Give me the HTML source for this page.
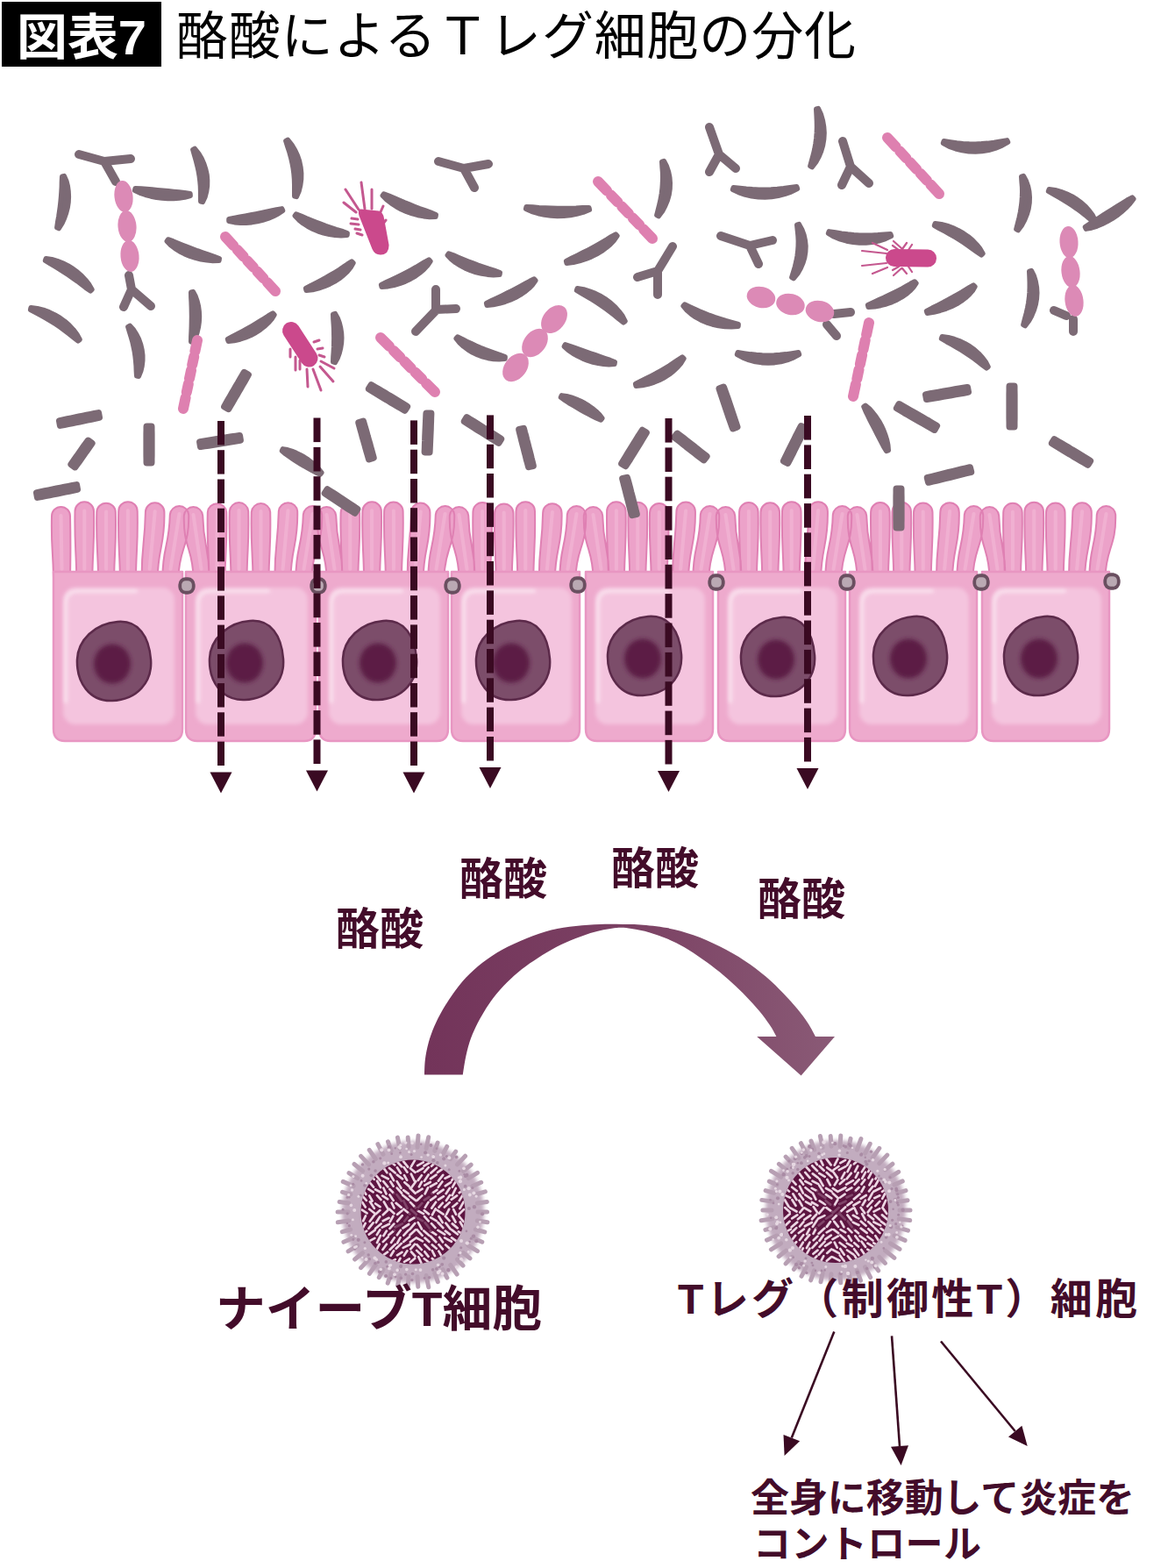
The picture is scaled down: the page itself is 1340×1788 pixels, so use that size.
<!DOCTYPE html>
<html lang="ja"><head><meta charset="utf-8"><title>図表7 酪酸によるTレグ細胞の分化</title><style>html,body{margin:0;padding:0;background:#fff;font-family:"Liberation Sans",sans-serif}svg{display:block}</style></head><body><svg width="1340" height="1788" viewBox="0 0 1340 1788"><defs><filter id="b2" x="-10%" y="-10%" width="120%" height="120%"><feGaussianBlur stdDeviation="2"/></filter><filter id="b3" x="-20%" y="-20%" width="140%" height="140%"><feGaussianBlur stdDeviation="2.5"/></filter><filter id="b1" x="-5%" y="-5%" width="110%" height="110%"><feGaussianBlur stdDeviation="0.7"/></filter><linearGradient id="ag" gradientUnits="userSpaceOnUse" x1="484" y1="0" x2="952" y2="0"><stop offset="0" stop-color="#73345a"/><stop offset="0.5" stop-color="#7b4163"/><stop offset="1" stop-color="#8a5a76"/></linearGradient></defs><rect x="2" y="2" width="182" height="74" fill="#000"/><text x="19" y="62" font-size="56" font-weight="bold" fill="#fff" font-family="&quot;Liberation Sans&quot;, &quot;Noto Sans CJK JP&quot;, sans-serif" textLength="148" lengthAdjust="spacingAndGlyphs">図表7</text><text x="201" y="62" font-size="59" fill="#000" font-family="&quot;Liberation Sans&quot;, &quot;Noto Sans CJK JP&quot;, sans-serif" textLength="775" lengthAdjust="spacing">酪酸によるＴレグ細胞の分化</text><path d="M61 659C60.5 625 58.2 626 59 588.5A10.5 10.5 0 0 1 80 588.5C80.8 626 80.5 625 80 659M87.3 659C86.8 625 84.8 620.377 85.5 583.1A10.75 10.75 0 0 1 107 583.1C107.8 620.377 105.8 625 105.3 659M112.1 659C111.6 625 109.5 621.627 110.3 584.4A10.75 10.75 0 0 1 131.8 584.4C132.7 621.627 130.6 625 130.1 659M136.9 659C136.4 625 134.3 620.181 135.2 582.9A10.75 10.75 0 0 1 156.7 582.9C157.5 620.181 155.4 625 154.9 659M161.7 659C161.2 625 165.1 621.34 165.9 584.1A10.75 10.75 0 0 1 187.4 584.1C188.2 621.34 180.2 625 179.7 659M185.5 659C185 625 192.9 624 193.8 586.8A10.75 10.75 0 0 1 215.2 586.8C216.1 624 204 625 203.5 659M220.5 659C220 625 208.9 625 209.8 587.8A10.75 10.75 0 0 1 231.2 587.8C232.1 625 239 625 238.5 659M238.5 659C238 625 235.9 621.269 236.8 584A10.75 10.75 0 0 1 258.2 584C259.1 621.269 257 625 256.5 659M263.5 659C263 625 260.9 620.094 261.8 582.8A10.75 10.75 0 0 1 283.2 582.8C284.1 620.094 282 625 281.5 659M288.5 659C288 625 285.9 621.084 286.8 583.8A10.75 10.75 0 0 1 308.2 583.8C309.1 621.084 307 625 306.5 659M313.5 659C313 625 316.9 620.175 317.8 582.9A10.75 10.75 0 0 1 339.2 582.9C340.1 620.175 332 625 331.5 659M337.5 659C337 625 344.9 624 345.8 586.8A10.75 10.75 0 0 1 367.2 586.8C368.1 624 356 625 355.5 659M372.5 659C372 625 360.9 625 361.8 587.8A10.75 10.75 0 0 1 383.2 587.8C384.1 625 391 625 390.5 659M390.3 659C389.8 625 387.8 622.067 388.6 584.8A10.75 10.75 0 0 1 410.1 584.8C410.9 622.067 408.8 625 408.3 659M415.1 659C414.6 625 412.6 620.31 413.4 583.1A10.75 10.75 0 0 1 434.9 583.1C435.7 620.31 433.6 625 433.1 659M439.9 659C439.4 625 437.3 620.558 438.1 583.3A10.75 10.75 0 0 1 459.6 583.3C460.4 620.558 458.4 625 457.9 659M464.7 659C464.2 625 468.1 621.569 468.9 584.3A10.75 10.75 0 0 1 490.4 584.3C491.2 621.569 483.2 625 482.7 659M488.5 659C488 625 495.9 624 496.8 586.8A10.75 10.75 0 0 1 518.2 586.8C519 624 507 625 506.5 659M523.5 659C523 625 511.9 625 512.8 587.8A10.75 10.75 0 0 1 534.2 587.8C535 625 542 625 541.5 659M541.1 659C540.6 625 538.6 620.992 539.4 583.7A10.75 10.75 0 0 1 560.9 583.7C561.6 620.992 559.6 625 559.1 659M565.7 659C565.2 625 563.2 622.441 564 585.2A10.75 10.75 0 0 1 585.5 585.2C586.2 622.441 584.2 625 583.7 659M590.3 659C589.8 625 587.8 620.116 588.5 582.9A10.75 10.75 0 0 1 610 582.9C610.8 620.116 608.8 625 608.3 659M614.9 659C614.4 625 618.4 622.146 619.1 584.9A10.75 10.75 0 0 1 640.6 584.9C641.4 622.146 633.4 625 632.9 659M638.5 659C638 625 646 624 646.8 586.8A10.75 10.75 0 0 1 668.2 586.8C669 624 657 625 656.5 659M676.5 659C676 625 665 625 665.8 587.8A10.75 10.75 0 0 1 687.2 587.8C688 625 695 625 694.5 659M693.9 659C693.4 625 691.4 620.294 692.1 583A10.75 10.75 0 0 1 713.6 583C714.4 620.294 712.4 625 711.9 659M718.3 659C717.8 625 715.8 620.771 716.5 583.5A10.75 10.75 0 0 1 738 583.5C738.8 620.771 736.8 625 736.3 659M742.7 659C742.2 625 740.2 622.04 741 584.8A10.75 10.75 0 0 1 762.5 584.8C763.2 622.04 761.2 625 760.7 659M767.1 659C766.6 625 770.6 620.452 771.4 583.2A10.75 10.75 0 0 1 792.9 583.2C793.6 620.452 785.6 625 785.1 659M790.5 659C790 625 798 624 798.8 586.8A10.75 10.75 0 0 1 820.2 586.8C821 624 809 625 808.5 659M827.5 659C827 625 816 625 816.8 587.8A10.75 10.75 0 0 1 838.2 587.8C839 625 846 625 845.5 659M844.9 659C844.4 625 842.4 620.931 843.1 583.7A10.75 10.75 0 0 1 864.6 583.7C865.4 620.931 863.4 625 862.9 659M869.3 659C868.8 625 866.8 621.369 867.5 584.1A10.75 10.75 0 0 1 889 584.1C889.8 621.369 887.8 625 887.3 659M893.7 659C893.2 625 891.2 620.157 892 582.9A10.75 10.75 0 0 1 913.5 582.9C914.2 620.157 912.2 625 911.7 659M918.1 659C917.6 625 921.6 620.149 922.4 582.9A10.75 10.75 0 0 1 943.9 582.9C944.6 620.149 936.6 625 936.1 659M941.5 659C941 625 949 624 949.8 586.8A10.75 10.75 0 0 1 971.2 586.8C972 624 960 625 959.5 659M977.5 659C977 625 966 625 966.8 587.8A10.75 10.75 0 0 1 988.2 587.8C989 625 996 625 995.5 659M994.9 659C994.4 625 992.4 621.069 993.1 583.8A10.75 10.75 0 0 1 1014.6 583.8C1015.4 621.069 1013.4 625 1012.9 659M1019.3 659C1018.8 625 1016.8 620.785 1017.5 583.5A10.75 10.75 0 0 1 1039 583.5C1039.8 620.785 1037.8 625 1037.3 659M1043.7 659C1043.2 625 1041.2 621.464 1042 584.2A10.75 10.75 0 0 1 1063.5 584.2C1064.2 621.464 1062.2 625 1061.7 659M1068.1 659C1067.6 625 1071.5 621.133 1072.3 583.9A10.75 10.75 0 0 1 1093.8 583.9C1094.6 621.133 1086.6 625 1086.1 659M1091.5 659C1091 625 1099 624 1099.8 586.8A10.75 10.75 0 0 1 1121.2 586.8C1122 624 1110 625 1109.5 659M1128.5 659C1128 625 1117 625 1117.8 587.8A10.75 10.75 0 0 1 1139.2 587.8C1140 625 1147 625 1146.5 659M1145.9 659C1145.4 625 1143.4 621.747 1144.2 584.5A10.75 10.75 0 0 1 1165.7 584.5C1166.5 621.747 1164.4 625 1163.9 659M1170.3 659C1169.8 625 1167.8 620.61 1168.5 583.4A10.75 10.75 0 0 1 1190 583.4C1190.8 620.61 1188.8 625 1188.3 659M1194.7 659C1194.2 625 1192.2 621.436 1193 584.2A10.75 10.75 0 0 1 1214.5 584.2C1215.2 621.436 1213.2 625 1212.7 659M1219.1 659C1218.6 625 1222.5 621.313 1223.3 584.1A10.75 10.75 0 0 1 1244.8 584.1C1245.6 621.313 1237.6 625 1237.1 659M1242.5 659C1242 625 1250 624 1250.8 586.8A10.75 10.75 0 0 1 1272.2 586.8C1273 624 1261 625 1260.5 659" fill="#eca2c9" stroke="#df80b3" stroke-width="2"/><path d="M69.5 588L70.5 649M96.3 582.4L96.3 649M121.1 583.6L121.1 649M145.9 582.2L145.9 649M176.7 583.3L170.7 649M204.5 586L194.5 649M220.5 587L229.5 649M247.5 583.3L247.5 649M272.5 582.1L272.5 649M297.5 583.1L297.5 649M328.5 582.2L322.5 649M356.5 586L346.5 649M372.5 587L381.5 649M399.3 584.1L399.3 649M424.1 582.3L424.1 649M448.9 582.6L448.9 649M479.7 583.6L473.7 649M507.5 586L497.5 649M523.5 587L532.5 649M550.1 583L550.1 649M574.7 584.4L574.7 649M599.3 582.1L599.3 649M629.9 584.1L623.9 649M657.5 586L647.5 649M676.5 587L685.5 649M702.9 582.3L702.9 649M727.3 582.8L727.3 649M751.7 584L751.7 649M782.1 582.5L776.1 649M809.5 586L799.5 649M827.5 587L836.5 649M853.9 582.9L853.9 649M878.3 583.4L878.3 649M902.7 582.2L902.7 649M933.1 582.1L927.1 649M960.5 586L950.5 649M977.5 587L986.5 649M1003.9 583.1L1003.9 649M1028.3 582.8L1028.3 649M1052.7 583.5L1052.7 649M1083.1 583.1L1077.1 649M1110.5 586L1100.5 649M1128.5 587L1137.5 649M1154.9 583.7L1154.9 649M1179.3 582.6L1179.3 649M1203.7 583.4L1203.7 649M1234.1 583.3L1228.1 649M1261.5 586L1251.5 649" fill="none" stroke="#f2b4d4" stroke-width="4" stroke-linecap="round" filter="url(#b1)" opacity=".8"/><path d="M61 652L208 652L208 831Q208 845 195 845L74 845Q61 845 61 831Z" fill="#eeaacd" stroke="#e896c2" stroke-width="2.5" stroke-linejoin="round"/><path d="M212 652L360 652L360 831Q360 845 347 845L225 845Q212 845 212 831Z" fill="#eeaacd" stroke="#e896c2" stroke-width="2.5" stroke-linejoin="round"/><path d="M364 652L511 652L511 831Q511 845 498 845L377 845Q364 845 364 831Z" fill="#eeaacd" stroke="#e896c2" stroke-width="2.5" stroke-linejoin="round"/><path d="M515 652L661 652L661 831Q661 845 648 845L528 845Q515 845 515 831Z" fill="#eeaacd" stroke="#e896c2" stroke-width="2.5" stroke-linejoin="round"/><path d="M668 652L813 652L813 831Q813 845 800 845L681 845Q668 845 668 831Z" fill="#eeaacd" stroke="#e896c2" stroke-width="2.5" stroke-linejoin="round"/><path d="M819 652L964 652L964 831Q964 845 951 845L832 845Q819 845 819 831Z" fill="#eeaacd" stroke="#e896c2" stroke-width="2.5" stroke-linejoin="round"/><path d="M969 652L1114 652L1114 831Q1114 845 1101 845L982 845Q969 845 969 831Z" fill="#eeaacd" stroke="#e896c2" stroke-width="2.5" stroke-linejoin="round"/><path d="M1120 652L1265 652L1265 831Q1265 845 1252 845L1133 845Q1120 845 1120 831Z" fill="#eeaacd" stroke="#e896c2" stroke-width="2.5" stroke-linejoin="round"/><rect x="72" y="670" width="127" height="156" rx="14" fill="#f4c4de" filter="url(#b2)"/><path d="M75 800L75 688Q75 674 89 674L155 674" fill="none" stroke="#fbe6f1" stroke-width="4" stroke-linecap="round" filter="url(#b2)" opacity=".9"/><rect x="223" y="670" width="128" height="156" rx="14" fill="#f4c4de" filter="url(#b2)"/><path d="M226 800L226 688Q226 674 240 674L306 674" fill="none" stroke="#fbe6f1" stroke-width="4" stroke-linecap="round" filter="url(#b2)" opacity=".9"/><rect x="375" y="670" width="127" height="156" rx="14" fill="#f4c4de" filter="url(#b2)"/><path d="M378 800L378 688Q378 674 392 674L458 674" fill="none" stroke="#fbe6f1" stroke-width="4" stroke-linecap="round" filter="url(#b2)" opacity=".9"/><rect x="526" y="670" width="126" height="156" rx="14" fill="#f4c4de" filter="url(#b2)"/><path d="M529 800L529 688Q529 674 543 674L609 674" fill="none" stroke="#fbe6f1" stroke-width="4" stroke-linecap="round" filter="url(#b2)" opacity=".9"/><rect x="679" y="670" width="125" height="156" rx="14" fill="#f4c4de" filter="url(#b2)"/><path d="M682 800L682 688Q682 674 696 674L762 674" fill="none" stroke="#fbe6f1" stroke-width="4" stroke-linecap="round" filter="url(#b2)" opacity=".9"/><rect x="830" y="670" width="125" height="156" rx="14" fill="#f4c4de" filter="url(#b2)"/><path d="M833 800L833 688Q833 674 847 674L913 674" fill="none" stroke="#fbe6f1" stroke-width="4" stroke-linecap="round" filter="url(#b2)" opacity=".9"/><rect x="980" y="670" width="125" height="156" rx="14" fill="#f4c4de" filter="url(#b2)"/><path d="M983 800L983 688Q983 674 997 674L1063 674" fill="none" stroke="#fbe6f1" stroke-width="4" stroke-linecap="round" filter="url(#b2)" opacity=".9"/><rect x="1131" y="670" width="125" height="156" rx="14" fill="#f4c4de" filter="url(#b2)"/><path d="M1134 800L1134 688Q1134 674 1148 674L1214 674" fill="none" stroke="#fbe6f1" stroke-width="4" stroke-linecap="round" filter="url(#b2)" opacity=".9"/><path d="M134 709C158 707 170 726 172 752C174 778 156 798 128 799C102 800 87 778 88 752C89 730 108 711 134 709Z" fill="#7c4d6a" stroke="#5c2a4a" stroke-width="2.5"/><ellipse cx="128" cy="757" rx="21" ry="22.5" fill="#5c1a44" filter="url(#b3)"/><path d="M285 708C309 706 321 725 323 751C325 777 307 797 279 798C253 799 238 777 239 751C240 729 259 710 285 708Z" fill="#7c4d6a" stroke="#5c2a4a" stroke-width="2.5"/><ellipse cx="279" cy="756" rx="21" ry="22.5" fill="#5c1a44" filter="url(#b3)"/><path d="M437 708C461 706 473 725 475 751C477 777 459 797 431 798C405 799 390 777 391 751C392 729 411 710 437 708Z" fill="#7c4d6a" stroke="#5c2a4a" stroke-width="2.5"/><ellipse cx="431" cy="756" rx="21" ry="22.5" fill="#5c1a44" filter="url(#b3)"/><path d="M589 708C613 706 625 725 627 751C629 777 611 797 583 798C557 799 542 777 543 751C544 729 563 710 589 708Z" fill="#7c4d6a" stroke="#5c2a4a" stroke-width="2.5"/><ellipse cx="583" cy="756" rx="21" ry="22.5" fill="#5c1a44" filter="url(#b3)"/><path d="M739 703C763 701 775 720 777 746C779 772 761 792 733 793C707 794 692 772 693 746C694 724 713 705 739 703Z" fill="#7c4d6a" stroke="#5c2a4a" stroke-width="2.5"/><ellipse cx="733" cy="751" rx="21" ry="22.5" fill="#5c1a44" filter="url(#b3)"/><path d="M891 704C915 702 927 721 929 747C931 773 913 793 885 794C859 795 844 773 845 747C846 725 865 706 891 704Z" fill="#7c4d6a" stroke="#5c2a4a" stroke-width="2.5"/><ellipse cx="885" cy="752" rx="21" ry="22.5" fill="#5c1a44" filter="url(#b3)"/><path d="M1042 703C1066 701 1078 720 1080 746C1082 772 1064 792 1036 793C1010 794 995 772 996 746C997 724 1016 705 1042 703Z" fill="#7c4d6a" stroke="#5c2a4a" stroke-width="2.5"/><ellipse cx="1036" cy="751" rx="21" ry="22.5" fill="#5c1a44" filter="url(#b3)"/><path d="M1191 703C1215 701 1227 720 1229 746C1231 772 1213 792 1185 793C1159 794 1144 772 1145 746C1146 724 1165 705 1191 703Z" fill="#7c4d6a" stroke="#5c2a4a" stroke-width="2.5"/><ellipse cx="1185" cy="751" rx="21" ry="22.5" fill="#5c1a44" filter="url(#b3)"/><rect x="205.25" y="660.25" width="15.5" height="15.5" rx="6.5" fill="#baa9b3" stroke="#6a4f60" stroke-width="3.8"/><rect x="355.25" y="660.25" width="15.5" height="15.5" rx="6.5" fill="#baa9b3" stroke="#6a4f60" stroke-width="3.8"/><rect x="508.25" y="660.25" width="15.5" height="15.5" rx="6.5" fill="#baa9b3" stroke="#6a4f60" stroke-width="3.8"/><rect x="651.25" y="659.25" width="15.5" height="15.5" rx="6.5" fill="#baa9b3" stroke="#6a4f60" stroke-width="3.8"/><rect x="809.25" y="656.25" width="15.5" height="15.5" rx="6.5" fill="#baa9b3" stroke="#6a4f60" stroke-width="3.8"/><rect x="958.25" y="656.25" width="15.5" height="15.5" rx="6.5" fill="#baa9b3" stroke="#6a4f60" stroke-width="3.8"/><rect x="1111.25" y="656.25" width="15.5" height="15.5" rx="6.5" fill="#baa9b3" stroke="#6a4f60" stroke-width="3.8"/><rect x="1260.25" y="655.25" width="15.5" height="15.5" rx="6.5" fill="#baa9b3" stroke="#6a4f60" stroke-width="3.8"/><g filter="url(#b1)"><g><path d="M70.8 201.3L70.5 207.1L70.4 212.8L70.1 218.4L69.7 224L69.2 229.6L68.6 235.2L67.8 241L66.9 247L65.8 253.1L64.9 259.5L67.1 260.5L70.7 254.8L73.4 248.8L75.5 242.8L77.1 236.6L78 230.5L78.3 224.3L78 218.2L77.2 212.2L75.7 206.3L73.2 200.7ZM153.7 217.2L159.6 220.1L165.8 222.2L172.1 223.9L178.5 225.2L184.9 226L191.4 226.4L197.9 226.4L204.3 225.9L210.7 225L217.1 223.2L216.9 220.8L210.5 219.7L204.3 219.1L198.1 218.5L191.9 217.9L185.8 217.3L179.6 216.7L173.4 216.1L167.2 215.5L160.8 215L154.3 214.8ZM219.9 170.6L221.7 177.1L223.5 183.3L225 189.2L226.3 195L227.3 200.7L228 206.3L228.5 211.9L228.7 217.7L228.7 223.5L228.8 229.7L231.2 230.3L233.9 224.5L235.5 218.3L236.4 212.1L236.5 205.7L236 199.3L234.6 193L232.6 186.8L229.9 180.7L226.5 174.9L222.1 169.4ZM325.9 160.6L328 167.3L330.1 173.7L331.8 179.9L333.2 186L334.3 192L335.1 198.1L335.6 204.2L335.8 210.5L335.8 216.9L335.8 223.7L338.2 224.3L341 217.8L342.6 211.1L343.5 204.3L343.6 197.5L342.9 190.7L341.5 184L339.3 177.4L336.4 171.1L332.7 165L328.1 159.4ZM261 252.2L267.6 253.6L274.2 254.1L280.7 254.1L287.2 253.6L293.5 252.6L299.7 251.1L305.8 249.2L311.6 246.7L317.3 243.8L322.5 240.1L321.5 237.9L315.4 238.9L309.4 240.3L303.6 241.6L297.7 242.8L291.8 244L285.9 245.1L279.8 246.2L273.7 247.3L267.5 248.4L261 249.8ZM190.3 275L194.6 279.5L199.6 283.3L204.9 286.7L210.5 289.6L216.5 292.1L222.7 294.1L229.2 295.7L235.9 296.8L242.7 297.4L249.8 297.2L250.2 294.8L243.7 292.3L237.4 290.2L231.3 288.1L225.3 286L219.6 283.8L213.9 281.7L208.4 279.5L202.9 277.3L197.4 275L191.7 273ZM51.6 297.2L57.2 300.7L62.7 303.9L68 307.1L73.1 310.4L78.2 313.7L83.1 317.1L88.1 320.6L92.9 324.3L97.8 328.1L103.1 331.8L104.9 330.2L101.7 324.5L97.6 319.3L93.2 314.6L88.3 310.3L83.1 306.4L77.5 303L71.7 300.1L65.5 297.7L59.1 295.8L52.4 294.8ZM217.8 333.3L217.9 339.1L218.2 344.7L218.4 350.1L218.5 355.6L218.6 361L218.5 366.5L218.4 372.1L218.2 377.7L217.9 383.6L217.8 389.7L220.2 390.3L223 384.7L224.9 378.8L226.3 372.9L227.1 367L227.4 361L227.1 355.1L226.3 349.2L224.9 343.5L223 337.9L220.2 332.7ZM34.7 353.2L40.9 356.6L46.9 359.8L52.7 363L58.2 366.3L63.6 369.7L68.8 373.2L73.8 376.9L78.8 380.7L83.8 384.7L89 388.8L91 387.2L87.7 381.2L83.6 375.8L79 370.9L73.9 366.4L68.4 362.4L62.4 358.9L56.2 355.9L49.5 353.5L42.6 351.7L35.3 350.8ZM336.3 246L340.7 250.7L345.7 254.7L351.1 258.2L356.8 261.2L362.8 263.8L369.1 265.8L375.5 267.3L382.1 268.3L388.9 268.7L395.9 268.2L396.1 265.8L389.7 263.5L383.5 261.6L377.5 259.6L371.6 257.6L365.9 255.5L360.3 253.3L354.7 251.1L349.1 248.8L343.5 246.3L337.7 244ZM436.3 223L441 227.8L446.3 231.9L451.8 235.5L457.6 238.7L463.7 241.4L470 243.6L476.5 245.4L483.1 246.6L489.9 247.4L496.8 247.2L497.2 244.8L490.9 242.2L484.8 240L478.7 237.8L472.8 235.5L467 233.2L461.2 230.9L455.4 228.4L449.6 225.9L443.8 223.4L437.7 221ZM599.7 238.2L606.5 241.3L613.6 243.4L620.9 245L628.2 246L635.6 246.4L643 246.2L650.5 245.4L657.8 244L665.1 242.1L672.3 239.2L671.7 236.8L664.2 236.9L656.9 237.3L649.8 237.5L642.7 237.6L635.7 237.6L628.8 237.4L621.8 237.1L614.7 236.7L607.6 236.1L600.3 235.8ZM349.3 331.2L356.5 330.4L363.3 328.8L369.7 326.7L375.8 324.1L381.5 321.1L386.8 317.7L391.7 313.8L396.1 309.6L399.9 305L402.9 299.8L401.1 298.2L396.2 301.2L391.6 304.4L386.9 307.5L382.1 310.5L377.1 313.5L371.9 316.5L366.5 319.4L360.8 322.4L354.8 325.4L348.7 328.8ZM435.3 327.2L442.5 326.6L449.4 325.2L455.9 323.3L462.1 321L468 318.2L473.5 315L478.6 311.3L483.3 307.3L487.5 302.9L490.9 297.9L489.1 296.1L484 298.9L479.1 301.9L474.2 304.8L469.1 307.6L463.9 310.4L458.5 313.2L452.9 316L447.1 318.8L441 321.6L434.7 324.8ZM510.3 291L514.6 295.6L519.5 299.5L524.9 302.9L530.5 305.9L536.5 308.4L542.7 310.5L549.2 312L555.9 313.1L562.8 313.6L569.8 313.2L570.2 310.8L563.7 308.4L557.3 306.4L551.2 304.3L545.3 302.3L539.6 300.2L533.9 298L528.4 295.8L522.9 293.5L517.4 291.2L511.7 289ZM555.3 348.2L562.5 347.5L569.4 346.1L575.9 344.2L582.1 341.9L588 339.2L593.5 336.1L598.5 332.7L603.2 328.9L607.4 324.7L610.8 319.9L609.2 318.1L604.1 320.6L599.2 323.3L594.3 326L589.2 328.7L584 331.4L578.6 334.1L572.9 336.9L567.1 339.7L561 342.5L554.7 345.8ZM646.3 300.2L653.9 299.3L661 297.6L667.8 295.4L674.3 292.8L680.4 289.8L686.1 286.4L691.3 282.6L696.1 278.5L700.4 274L703.9 268.9L702.1 267.1L696.9 270L691.9 273.1L686.8 276.1L681.6 279.1L676.2 282.1L670.6 285.1L664.7 288.1L658.6 291.2L652.2 294.3L645.7 297.8ZM657.6 331.2L663.7 334.9L669.7 338.3L675.4 341.7L680.9 345.2L686.1 348.7L691.2 352.3L696.2 356L701.1 359.8L705.9 363.8L711 367.8L713 366.2L709.9 360.3L705.9 355L701.5 350L696.5 345.5L691.1 341.4L685.3 337.8L679.1 334.7L672.5 332.1L665.7 330L658.4 328.8ZM754.8 184.4L755.2 190.8L755.7 196.9L755.8 202.9L755.6 208.8L755.2 214.6L754.5 220.4L753.5 226.4L752.2 232.5L750.6 238.7L748.9 245.4L751.1 246.6L755.4 240.9L758.6 234.7L761.2 228.4L763 222L764 215.4L764.2 208.8L763.7 202.3L762.4 195.9L760.3 189.6L757.2 183.6ZM930.8 124.3L931.2 131.5L931.5 138.3L931.6 144.9L931.4 151.2L930.9 157.5L930.1 163.7L929 170L927.5 176.3L925.7 182.7L923.9 189.4L926.1 190.6L930.5 184.8L933.9 178.6L936.6 172.1L938.5 165.4L939.6 158.5L940 151.5L939.5 144.4L938.3 137.4L936.3 130.4L933.2 123.7ZM835.6 216.2L842.6 219.6L849.9 222.1L857.3 223.8L864.8 224.7L872.4 225L880 224.5L887.5 223.3L895 221.4L902.3 218.8L909.4 215.2L908.6 212.8L900.9 213.8L893.6 214.8L886.4 215.5L879.3 216L872.3 216.2L865.3 216.2L858.2 215.9L851.1 215.4L843.9 214.6L836.4 213.8ZM908.8 256.4L909.5 262.9L910.1 268.9L910.4 274.8L910.3 280.5L909.9 286.2L909.2 291.9L908.1 297.7L906.7 303.7L904.9 309.8L902.9 316.4L905.1 317.6L909.6 312.1L913 306.1L915.7 299.9L917.6 293.6L918.6 287.1L918.9 280.6L918.2 274.1L916.8 267.7L914.5 261.5L911.2 255.6ZM944.6 266.1L951.2 270L958.3 272.8L965.5 274.9L972.8 276.3L980.1 277L987.6 276.9L994.9 276.2L1002.2 274.7L1009.4 272.5L1016.4 269.2L1015.6 266.8L1008.2 267.3L1001.1 267.9L994.2 268.3L987.3 268.4L980.5 268.2L973.7 267.8L966.9 267.1L959.9 266.2L952.8 265L945.4 263.9ZM779.2 348.9L783.4 353.9L788.3 358.1L793.7 361.9L799.6 365.1L805.8 367.8L812.5 369.9L819.4 371.4L826.7 372.4L834.1 372.8L841.9 372.2L842.1 369.8L834.8 367.6L827.9 365.7L821.3 363.7L815 361.7L808.9 359.5L803.1 357.2L797.4 354.9L791.9 352.3L786.4 349.7L780.8 347.1ZM1075.6 163.2L1082.5 167L1089.8 169.7L1097.2 171.6L1104.8 172.7L1112.4 173L1120 172.5L1127.6 171.2L1135.1 169.1L1142.4 166.2L1149.5 162.1L1148.5 159.9L1140.8 161.2L1133.5 162.4L1126.3 163.4L1119.3 163.9L1112.3 164.2L1105.3 164.1L1098.3 163.7L1091.2 163L1084 161.9L1076.4 160.8ZM1164.8 201.4L1165.2 207.6L1165.7 213.4L1165.8 219.2L1165.6 224.9L1165.2 230.6L1164.5 236.3L1163.5 242.3L1162.2 248.4L1160.6 254.7L1158.9 261.4L1161.1 262.6L1165.4 256.8L1168.6 250.6L1171.2 244.3L1173 237.9L1174 231.4L1174.2 225L1173.7 218.6L1172.4 212.3L1170.3 206.3L1167.2 200.6ZM1195.6 218.2L1201.6 221.7L1207.3 224.9L1212.8 228.1L1218.1 231.4L1223.2 234.7L1228.1 238.1L1232.8 241.6L1237.5 245.2L1242.1 249L1247 252.7L1249 251.3L1246.1 245.5L1242.3 240.4L1238.1 235.6L1233.3 231.3L1228.1 227.4L1222.5 224L1216.4 221.1L1210.1 218.7L1203.4 216.8L1196.4 215.8ZM1291.2 225.1L1285.3 228.3L1279.7 231.8L1274.3 235.2L1268.9 238.6L1263.6 241.9L1258.4 245.2L1253.2 248.5L1247.9 251.8L1242.7 255.2L1237.5 258.9L1238.5 261.1L1244.8 259.9L1250.9 258L1256.9 255.5L1262.7 252.6L1268.3 249.4L1273.8 245.7L1279 241.6L1283.9 237.2L1288.6 232.4L1292.8 226.9ZM1065.6 257.2L1071.7 260.7L1077.6 263.8L1083.2 267L1088.7 270.2L1094 273.4L1099.1 276.7L1104.1 280.1L1109 283.6L1113.9 287.2L1119.1 290.8L1120.9 289.2L1117.7 283.6L1113.6 278.6L1109.1 273.9L1104.1 269.7L1098.6 266L1092.8 262.7L1086.7 259.9L1080.2 257.5L1073.5 255.7L1066.4 254.8ZM990.3 350.2L997.5 349.7L1004.4 348.4L1010.9 346.7L1017.1 344.5L1022.9 341.9L1028.3 338.9L1033.3 335.5L1037.8 331.7L1041.7 327.6L1044.9 322.9L1043.1 321.1L1038.3 323.6L1033.7 326.2L1029 328.9L1024.1 331.4L1019 334L1013.7 336.6L1008.1 339.3L1002.3 341.9L996.1 344.7L989.7 347.8ZM1057.4 357.2L1065.1 356.1L1072.2 354.2L1079 352L1085.3 349.4L1091.1 346.5L1096.4 343.2L1101.2 339.6L1105.5 335.7L1109.2 331.5L1111.9 326.8L1110.1 325.2L1105.6 327.7L1101.2 330.4L1096.7 333.2L1091.9 335.9L1086.8 338.8L1081.4 341.7L1075.8 344.8L1069.7 347.9L1063.3 351.1L1056.6 354.8ZM1173.8 309.4L1174.1 315.8L1174.3 321.9L1174.3 327.8L1174.1 333.7L1173.6 339.5L1172.8 345.4L1171.7 351.3L1170.3 357.4L1168.6 363.7L1166.9 370.4L1169.1 371.6L1173.4 365.9L1176.7 359.8L1179.3 353.5L1181.2 347L1182.3 340.5L1182.7 333.9L1182.3 327.4L1181.1 320.9L1179.2 314.6L1176.2 308.6ZM145.9 372.6L147.7 378.6L149.4 384.2L151 389.7L152.2 395.1L153.3 400.4L154.1 405.8L154.7 411.3L155.2 416.9L155.4 422.7L155.8 428.8L158.2 429.2L160.6 423.3L162 417.3L162.7 411.1L162.7 405L161.9 398.9L160.5 392.9L158.5 387.1L155.7 381.5L152.4 376.2L148.1 371.4ZM260.4 389.2L267.2 388.4L273.8 386.9L280 384.8L285.9 382.4L291.5 379.5L296.7 376.1L301.5 372.4L305.9 368.3L309.8 363.9L312.9 358.9L311.1 357.1L306.2 360L301.5 363.1L296.8 366L292 368.9L287.1 371.8L282 374.7L276.7 377.6L271.3 380.5L265.5 383.5L259.6 386.8ZM321.5 514.1L325.5 517.5L329.7 520.5L333.9 523.3L338.1 526.1L342.4 528.8L346.7 531.4L351.1 533.9L355.6 536.4L360.3 538.9L365.2 541L366.8 539L363.4 534.7L359.6 530.9L355.6 527.4L351.4 524.2L347 521.3L342.4 518.7L337.7 516.4L332.8 514.4L327.8 512.8L322.5 511.9ZM379.8 358.4L380 364.1L380.4 369.5L380.7 374.9L380.8 380.1L380.9 385.3L380.8 390.6L380.7 395.9L380.4 401.3L380 406.8L379.8 412.6L382.2 413.4L385.1 408.1L387.1 402.5L388.5 396.8L389.4 391.1L389.7 385.3L389.4 379.6L388.5 373.9L387.1 368.3L385.1 362.8L382.2 357.6ZM520.2 385.9L524.2 390.9L528.7 395.1L533.7 398.8L539 402L544.7 404.7L550.5 406.8L556.6 408.4L562.9 409.4L569.3 409.8L575.9 409.2L576.1 406.8L570.1 404.6L564.4 402.7L558.8 400.7L553.3 398.7L548.1 396.6L542.8 394.3L537.7 391.9L532.5 389.4L527.3 386.7L521.8 384.1ZM643.4 395.1L648.2 399.4L653.4 403L658.8 406.1L664.4 408.8L670.2 411.1L676.2 413L682.2 414.3L688.3 415.2L694.5 415.7L700.8 415.2L701.2 412.8L695.5 410.5L689.8 408.6L684.2 406.7L678.7 404.7L673.1 402.8L667.6 400.9L662 398.9L656.4 396.8L650.7 394.8L644.6 392.9ZM639.5 453.1L644.2 456.5L648.8 459.5L653.4 462.2L658 464.9L662.5 467.5L667 470L671.4 472.4L675.9 474.8L680.4 477L685.2 479L686.8 477L683.6 472.8L679.8 469.1L675.7 465.8L671.4 462.7L666.8 459.8L662 457.3L656.9 455.1L651.7 453.2L646.2 451.7L640.5 450.9ZM725.3 440.2L732.5 439.5L739.3 438L745.8 436L752 433.4L757.8 430.5L763.2 427L768.2 423.1L772.7 418.8L776.7 414.1L779.9 408.8L778.1 407.2L773.1 410.3L768.3 413.6L763.5 416.8L758.5 419.8L753.4 422.8L748.2 425.8L742.7 428.7L736.9 431.6L730.9 434.5L724.7 437.8ZM840.6 404.2L847.2 407.9L854.2 410.6L861.4 412.5L868.7 413.6L876 414L883.3 413.6L890.6 412.5L897.8 410.6L904.8 407.9L911.4 404.2L910.6 401.8L903.2 402.9L896.2 403.9L889.4 404.6L882.7 405.1L876 405.2L869.3 405.1L862.6 404.6L855.8 403.9L848.8 402.9L841.4 401.8ZM985 463.7L987.3 469.2L989.8 474.3L992.3 479.4L994.9 484.4L997.4 489.3L999.9 494.3L1002.5 499.3L1005.1 504.3L1007.7 509.3L1010.8 514.4L1013.2 513.6L1012.7 507.6L1011.5 501.8L1009.8 496.2L1007.7 490.7L1005.2 485.3L1002.4 480.2L999.1 475.3L995.5 470.6L991.6 466.2L987 462.3ZM1073.6 386.2L1079.6 389.7L1085.4 392.8L1090.9 396L1096.2 399.2L1101.2 402.4L1106.1 405.7L1110.9 409L1115.5 412.5L1120.2 416.2L1125 419.8L1127 418.2L1124.1 412.6L1120.3 407.6L1116 403L1111.3 398.8L1106 395L1100.4 391.7L1094.4 388.9L1088.1 386.5L1081.4 384.7L1074.4 383.8Z" fill="#7b6b75" stroke="#7b6b75" stroke-width="5.6" stroke-linejoin="round"/><path d="M278.6 424.9L276.3 428.8L274 432.6L271.8 436.5L269.5 440.3L267.3 444.2L265 448.1L262.8 451.9L260.5 455.8L258.3 459.7L256.1 463.6L260.4 466.1L262.7 462.2L265 458.4L267.2 454.5L269.5 450.7L271.7 446.8L274 442.9L276.2 439.1L278.5 435.2L280.7 431.3L282.9 427.4ZM68.9 484.9L73.4 484.1L77.8 483.2L82.2 482.3L86.6 481.4L91 480.5L95.4 479.6L99.8 478.7L104.2 477.8L108.6 476.9L113 475.9L112.1 471.1L107.6 471.9L103.2 472.8L98.8 473.7L94.4 474.6L90 475.5L85.6 476.4L81.2 477.3L76.8 478.2L72.4 479.1L68 480.1ZM100.5 502.6L98.6 505.3L96.6 507.9L94.7 510.6L92.8 513.3L90.9 516L89 518.7L87.1 521.4L85.2 524.1L83.3 526.8L81.4 529.5L85.5 532.4L87.4 529.7L89.4 527.1L91.3 524.4L93.2 521.7L95.1 519L97 516.3L98.9 513.6L100.8 510.9L102.7 508.2L104.6 505.5ZM167.5 486.5L167.5 490.6L167.4 494.7L167.4 498.8L167.4 502.9L167.4 507L167.4 511.1L167.4 515.2L167.4 519.3L167.5 523.4L167.5 527.5L172.5 527.5L172.5 523.4L172.6 519.3L172.6 515.2L172.6 511.1L172.6 507L172.6 502.9L172.6 498.8L172.6 494.7L172.5 490.6L172.5 486.5ZM228.9 509L233.4 508.4L237.9 507.7L242.4 507L246.9 506.3L251.4 505.6L255.9 504.8L260.4 504.1L264.9 503.4L269.4 502.6L273.9 501.8L273.1 497L268.6 497.6L264.1 498.3L259.6 499L255.1 499.7L250.6 500.4L246.1 501.2L241.6 501.9L237.1 502.6L232.6 503.4L228.1 504.2ZM42.9 566.9L47.5 566.1L52 565.2L56.5 564.3L61 563.4L65.5 562.5L70 561.6L74.5 560.7L79 559.8L83.5 558.9L88 557.9L87.1 553.1L82.5 553.9L78 554.8L73.5 555.7L69 556.6L64.5 557.5L60 558.4L55.5 559.3L51 560.2L46.5 561.1L42 562.1ZM420.9 443.4L424.9 445.9L429 448.4L433 450.8L437.1 453.3L441.2 455.7L445.2 458.2L449.3 460.6L453.4 463L457.5 465.4L461.6 467.8L464.1 463.6L460.1 461.1L456 458.6L452 456.2L447.9 453.7L443.8 451.3L439.8 448.8L435.7 446.4L431.6 444L427.5 441.6L423.4 439.2ZM409.3 482.1L410.4 486.2L411.5 490.3L412.7 494.5L413.8 498.6L415 502.7L416.2 506.8L417.3 510.9L418.5 515.1L419.7 519.2L420.9 523.3L425.7 521.9L424.6 517.8L423.5 513.7L422.3 509.5L421.2 505.4L420 501.3L418.8 497.2L417.7 493.1L416.5 488.9L415.3 484.8L414.1 480.7ZM486.4 471.4L486.2 475.8L486 480.2L485.8 484.6L485.6 489L485.4 493.4L485.2 497.8L485.1 502.2L484.9 506.6L484.8 511L484.6 515.4L489.6 515.6L489.8 511.2L490 506.8L490.2 502.4L490.4 498L490.6 493.6L490.8 489.2L490.9 484.8L491.1 480.4L491.2 476L491.4 471.6ZM529.8 480.4L533.6 482.9L537.5 485.4L541.4 487.8L545.2 490.3L549.1 492.7L553 495.1L556.9 497.6L560.8 500L564.7 502.4L568.6 504.8L571.2 500.6L567.4 498.1L563.5 495.6L559.6 493.2L555.8 490.7L551.9 488.3L548 485.9L544.1 483.4L540.2 481L536.3 478.6L532.4 476.2ZM592.2 490L593.2 494.3L594.3 498.5L595.3 502.7L596.4 506.9L597.5 511.1L598.6 515.4L599.7 519.6L600.7 523.8L601.9 528L603 532.2L607.8 531L606.8 526.7L605.7 522.5L604.7 518.3L603.6 514.1L602.5 509.9L601.4 505.6L600.3 501.4L599.3 497.2L598.1 493L597 488.8ZM370.7 562.4L374.1 564.7L377.4 567L380.8 569.2L384.2 571.4L387.6 573.7L391 575.9L394.3 578.1L397.7 580.3L401.1 582.5L404.6 584.7L407.3 580.6L403.9 578.3L400.6 576L397.2 573.8L393.8 571.6L390.4 569.3L387 567.1L383.7 564.9L380.3 562.7L376.9 560.5L373.4 558.3ZM820.5 443.2L822 447.7L823.5 452.2L825 456.8L826.5 461.3L828 465.8L829.6 470.4L831.1 474.9L832.7 479.4L834.3 483.9L835.9 488.4L840.5 486.8L839 482.3L837.5 477.8L836 473.2L834.5 468.7L833 464.2L831.4 459.6L829.9 455.1L828.3 450.6L826.7 446.1L825.1 441.6ZM732.6 490.8L730.2 494.6L727.8 498.3L725.5 502.1L723.1 505.9L720.8 509.6L718.5 513.4L716.1 517.2L713.8 521L711.5 524.8L709.2 528.6L713.4 531.2L715.8 527.4L718.2 523.7L720.5 519.9L722.9 516.1L725.2 512.4L727.5 508.6L729.9 504.8L732.2 501L734.5 497.2L736.8 493.4ZM769.4 498.5L772.7 501.1L776 503.7L779.3 506.3L782.6 509L785.9 511.5L789.2 514.1L792.5 516.7L795.8 519.3L799.2 521.9L802.5 524.4L805.6 520.5L802.3 517.9L799 515.3L795.7 512.7L792.4 510L789.1 507.5L785.8 504.9L782.5 502.3L779.2 499.7L775.8 497.1L772.5 494.6ZM913.7 486.1L911.6 490.1L909.6 494L907.6 497.9L905.7 501.9L903.7 505.8L901.7 509.8L899.7 513.8L897.8 517.7L895.8 521.7L893.9 525.7L898.3 527.9L900.4 523.9L902.4 520L904.4 516.1L906.3 512.1L908.3 508.2L910.3 504.2L912.3 500.2L914.2 496.3L916.2 492.3L918.1 488.3ZM710.2 546L711.3 550.2L712.3 554.3L713.4 558.4L714.4 562.5L715.5 566.7L716.6 570.8L717.6 574.9L718.7 579L719.8 583.1L721 587.2L725.8 586L724.7 581.8L723.7 577.7L722.6 573.6L721.6 569.5L720.5 565.3L719.4 561.2L718.4 557.1L717.3 553L716.2 548.9L715 544.8ZM1056.9 455L1061.6 454.2L1066.3 453.5L1071 452.7L1075.7 451.9L1080.4 451.1L1085.1 450.2L1089.9 449.4L1094.6 448.6L1099.3 447.7L1104 446.9L1103.1 442L1098.4 442.8L1093.7 443.5L1089 444.3L1084.3 445.1L1079.6 445.9L1074.9 446.8L1070.1 447.6L1065.4 448.4L1060.7 449.3L1056 450.1ZM1022.9 465.4L1027.2 467.9L1031.4 470.4L1035.7 472.8L1039.9 475.3L1044.2 477.8L1048.5 480.2L1052.7 482.6L1057 485.1L1061.3 487.5L1065.6 489.9L1068.1 485.6L1063.8 483.1L1059.6 480.6L1055.3 478.2L1051.1 475.7L1046.8 473.2L1042.5 470.8L1038.3 468.4L1034 465.9L1029.7 463.5L1025.4 461.1ZM1151.5 440.5L1151.5 445.1L1151.4 449.7L1151.4 454.3L1151.4 458.9L1151.4 463.5L1151.4 468.1L1151.4 472.7L1151.4 477.3L1151.5 481.9L1151.5 486.5L1156.5 486.5L1156.5 481.9L1156.6 477.3L1156.6 472.7L1156.6 468.1L1156.6 463.5L1156.6 458.9L1156.6 454.3L1156.6 449.7L1156.5 445.1L1156.5 440.5ZM1199.9 505.4L1203.9 507.9L1208 510.4L1212 512.8L1216.1 515.3L1220.2 517.7L1224.2 520.2L1228.3 522.6L1232.4 525L1236.5 527.4L1240.6 529.8L1243.1 525.6L1239.1 523.1L1235 520.6L1231 518.2L1226.9 515.7L1222.8 513.3L1218.8 510.8L1214.7 508.4L1210.6 506L1206.5 503.6L1202.4 501.2ZM1059 549.8L1063.8 548.7L1068.7 547.5L1073.5 546.4L1078.3 545.2L1083.1 544L1087.9 542.8L1092.7 541.6L1097.6 540.4L1102.4 539.2L1107.2 538L1106 533.2L1101.2 534.3L1096.3 535.5L1091.5 536.6L1086.7 537.8L1081.9 539L1077.1 540.2L1072.3 541.4L1067.4 542.6L1062.6 543.8L1057.8 545ZM1022.5 557.5L1022.5 561.9L1022.4 566.3L1022.4 570.7L1022.4 575.1L1022.4 579.5L1022.4 583.9L1022.4 588.3L1022.4 592.7L1022.5 597.1L1022.5 601.5L1027.5 601.5L1027.5 597.1L1027.6 592.7L1027.6 588.3L1027.6 583.9L1027.6 579.5L1027.6 575.1L1027.6 570.7L1027.6 566.3L1027.5 561.9L1027.5 557.5Z" fill="#7b6b75" stroke="#7b6b75" stroke-width="8" stroke-linejoin="round"/><path d="M90 176L119 184L149 181M119 184L132 207M147 314L150 330L141 350M150 330L172 349M500 184L529 192L557 187M529 192L541 214M497 330L497 354L474 378M497 353L520 352M809 145L820 176L809 196M820 176L839 192M961 161L970 190L960 211M970 190L991 209M822 269L855 280L881 274M855 280L865 301M767 281L750 309L750 336M727 316L750 309M951 358L970 356M943 370L954 383M1202 354L1216 360M1224 364L1224 378" fill="none" stroke="#7b6b75" stroke-width="10" stroke-linecap="round" stroke-linejoin="round"/><g fill="#dc8ab6"><ellipse cx="141" cy="224" rx="18" ry="10.5" transform="rotate(83.3 141 224)"/><ellipse cx="145" cy="258" rx="18" ry="10.5" transform="rotate(85.0 145 258)"/><ellipse cx="148" cy="292" rx="18" ry="10.5" transform="rotate(85.0 148 292)"/><ellipse cx="868" cy="339" rx="16.5" ry="12" transform="rotate(13.4 868 339)"/><ellipse cx="901.5" cy="347" rx="16.5" ry="12" transform="rotate(13.4 901.5 347)"/><ellipse cx="935" cy="355" rx="16.5" ry="12" transform="rotate(13.4 935 355)"/><ellipse cx="1219" cy="276" rx="18" ry="10.5" transform="rotate(86.6 1219 276)"/><ellipse cx="1221" cy="310" rx="18" ry="10.5" transform="rotate(83.1 1221 310)"/><ellipse cx="1225" cy="343" rx="18" ry="10.5" transform="rotate(83.1 1225 343)"/><ellipse cx="632" cy="364" rx="18" ry="12.5" transform="rotate(129.2 632 364)"/><ellipse cx="610" cy="391" rx="18" ry="12.5" transform="rotate(128.2 610 391)"/><ellipse cx="588" cy="419" rx="18" ry="12.5" transform="rotate(128.2 588 419)"/></g><path d="M257 270L266.2 280M270.6 284.8L277.6 292.4M282 297.2L289 304.8M293.4 309.6L300.4 317.2M304.8 322L314 332M225 388L222.4 400.5M221.2 406.7L219.2 416.1M218 422.3L216 431.7M214.8 437.9L212.8 447.3M211.6 453.5L209 466M682 207L692.2 217.7M696.6 222.3L704.6 230.7M709 235.3L717 243.7M721.4 248.3L729.4 256.7M733.8 261.3L744 272M1012 157L1021.6 167.4M1026 172.2L1033.4 180.2M1037.8 185L1045.2 193M1049.6 197.8L1057 205.8M1061.4 210.6L1071 221M434 385L444.1 395.1M448.7 399.7L456.5 407.5M461.1 412.1L468.9 419.9M473.5 424.5L481.3 432.3M485.9 436.9L496 447M991 368L988.1 381.7M986.7 387.9L984.5 398.5M983.1 404.7L980.9 415.3M979.5 421.5L977.3 432.1M975.9 438.3L973 452" fill="none" stroke="#de80b0" stroke-width="12" stroke-linecap="round"/><path d="M409 239L394 216M406 242L392 231M416 238L412 208M424 238L424 216M433 244L437 235M437 255L440 251M408 250L401 249M409 256L400 255M411 262L405 261M413 268L407 266" stroke="#c4588f" stroke-width="3" stroke-linecap="round" fill="none"/><path d="M412 238.5L432 240.5Q437 242 438 249L443.5 279Q444 290 434.5 290.5Q427.5 291 424.5 284L409.5 246Q407.5 238 412 238.5Z" fill="#cb4a8c"/><path d="M366 412L381 420M365 418L380 435M357 421L366 445M350 421L351 441M342 411L342 421M337 407L337 422M331 398L331 407M362 398L368 397M364 405L370 407M358 390L364 388" stroke="#c4588f" stroke-width="3" stroke-linecap="round" fill="none"/><path d="M332 377L352.5 408.5" stroke="#cb4a8c" stroke-width="20" stroke-linecap="round" fill="none"/><path d="M1011 289L983 286M1011 300L983 303M1012 285L995 277M1012 305L995 312M1018 280L1026 286M1019 275L1028 283M1034 277L1029 284M1040 279L1036 285M1018 308L1025 304M1019 314L1028 306M1034 312L1029 306M1040 310L1036 304" stroke="#c4588f" stroke-width="2.2" stroke-linecap="round" fill="none"/><path d="M1020 294L1058 294.5" stroke="#cb4a8c" stroke-width="20" stroke-linecap="round" fill="none"/></g></g><g fill="#3a0a22"><rect x="248" y="480" width="8" height="27.4"/><rect x="248" y="513.2" width="8" height="27.4"/><rect x="248" y="546.5" width="8" height="27.4"/><rect x="248" y="579.7" width="8" height="27.4"/><rect x="248" y="612.9" width="8" height="27.4"/><rect x="248" y="646.2" width="8" height="27.4"/><rect x="248" y="679.4" width="8" height="27.4"/><rect x="248" y="712.6" width="8" height="27.4"/><rect x="248" y="745.9" width="8" height="27.4"/><rect x="248" y="779.1" width="8" height="27.4"/><rect x="248" y="812.3" width="8" height="27.4"/><rect x="248" y="845.6" width="8" height="27.4"/><path d="M239.5 880.5L264.5 880.5L252 904.5Z"/><rect x="357.5" y="476.5" width="8" height="27.6"/><rect x="357.5" y="509.9" width="8" height="27.6"/><rect x="357.5" y="543.2" width="8" height="27.6"/><rect x="357.5" y="576.6" width="8" height="27.6"/><rect x="357.5" y="609.9" width="8" height="27.6"/><rect x="357.5" y="643.3" width="8" height="27.6"/><rect x="357.5" y="676.6" width="8" height="27.6"/><rect x="357.5" y="710" width="8" height="27.6"/><rect x="357.5" y="743.4" width="8" height="27.6"/><rect x="357.5" y="776.7" width="8" height="27.6"/><rect x="357.5" y="810.1" width="8" height="27.6"/><rect x="357.5" y="843.4" width="8" height="27.6"/><path d="M349 878.5L374 878.5L361.5 902.5Z"/><rect x="468" y="479.4" width="8" height="27.5"/><rect x="468" y="512.7" width="8" height="27.5"/><rect x="468" y="546" width="8" height="27.5"/><rect x="468" y="579.2" width="8" height="27.5"/><rect x="468" y="612.5" width="8" height="27.5"/><rect x="468" y="645.8" width="8" height="27.5"/><rect x="468" y="679.1" width="8" height="27.5"/><rect x="468" y="712.4" width="8" height="27.5"/><rect x="468" y="745.7" width="8" height="27.5"/><rect x="468" y="779" width="8" height="27.5"/><rect x="468" y="812.2" width="8" height="27.5"/><rect x="468" y="845.5" width="8" height="27.5"/><path d="M459.5 880.5L484.5 880.5L472 904.5Z"/><rect x="555" y="473.4" width="8" height="27.5"/><rect x="555" y="506.7" width="8" height="27.5"/><rect x="555" y="540" width="8" height="27.5"/><rect x="555" y="573.4" width="8" height="27.5"/><rect x="555" y="606.7" width="8" height="27.5"/><rect x="555" y="640" width="8" height="27.5"/><rect x="555" y="673.4" width="8" height="27.5"/><rect x="555" y="706.7" width="8" height="27.5"/><rect x="555" y="740" width="8" height="27.5"/><rect x="555" y="773.3" width="8" height="27.5"/><rect x="555" y="806.6" width="8" height="27.5"/><rect x="555" y="840" width="8" height="27.5"/><path d="M546.5 875L571.5 875L559 899Z"/><rect x="758.5" y="477" width="8" height="27.6"/><rect x="758.5" y="510.4" width="8" height="27.6"/><rect x="758.5" y="543.7" width="8" height="27.6"/><rect x="758.5" y="577.1" width="8" height="27.6"/><rect x="758.5" y="610.4" width="8" height="27.6"/><rect x="758.5" y="643.8" width="8" height="27.6"/><rect x="758.5" y="677.1" width="8" height="27.6"/><rect x="758.5" y="710.5" width="8" height="27.6"/><rect x="758.5" y="743.9" width="8" height="27.6"/><rect x="758.5" y="777.2" width="8" height="27.6"/><rect x="758.5" y="810.6" width="8" height="27.6"/><rect x="758.5" y="843.9" width="8" height="27.6"/><path d="M750 879L775 879L762.5 903Z"/><rect x="917" y="474" width="8" height="27.6"/><rect x="917" y="507.4" width="8" height="27.6"/><rect x="917" y="540.7" width="8" height="27.6"/><rect x="917" y="574.1" width="8" height="27.6"/><rect x="917" y="607.4" width="8" height="27.6"/><rect x="917" y="640.8" width="8" height="27.6"/><rect x="917" y="674.1" width="8" height="27.6"/><rect x="917" y="707.5" width="8" height="27.6"/><rect x="917" y="740.9" width="8" height="27.6"/><rect x="917" y="774.2" width="8" height="27.6"/><rect x="917" y="807.6" width="8" height="27.6"/><rect x="917" y="840.9" width="8" height="27.6"/><path d="M908.5 876L933.5 876L921 900Z"/></g><g font-family="&quot;Liberation Sans&quot;, &quot;Noto Sans CJK JP&quot;, sans-serif" font-weight="bold" font-size="50" fill="#430c2a"><text x="383" y="1077">酪酸</text><text x="524" y="1020">酪酸</text><text x="697" y="1008">酪酸</text><text x="864" y="1043">酪酸</text></g><path d="M484 1225.6C484.1 1222.7 484.1 1214.1 484.9 1208C485.7 1201.9 487 1195.2 488.7 1189C490.4 1182.8 492.6 1176.8 495.2 1170.6C497.8 1164.4 500.9 1158.2 504.5 1152C508.1 1145.8 512.1 1139.5 516.6 1133.3C521.1 1127.1 526 1120.5 531.6 1114.6C537.2 1108.7 543.4 1103.1 550.2 1097.8C557 1092.5 564.2 1087.7 572.6 1083C581 1078.3 591.3 1073.7 600.6 1069.9C609.9 1066.2 619.3 1062.8 628.6 1060.5C637.9 1058.2 647.3 1057 656.6 1055.9C665.9 1054.8 675.7 1054.3 684.6 1054C693.5 1053.7 702.4 1053.9 710 1054C717.6 1054.1 721.8 1053.8 730.2 1054.5C738.6 1055.2 750.3 1056.1 760.4 1058.1C770.5 1060 780.6 1062.7 790.7 1066.2C800.8 1069.7 811.2 1074.4 820.9 1079.3C830.6 1084.2 840.4 1089.7 849.1 1095.4C857.8 1101.1 865.9 1107.3 873.3 1113.5C880.7 1119.7 887.3 1126.5 893.4 1132.7C899.5 1138.9 904.9 1145.1 909.6 1150.8C914.3 1156.5 918.2 1161.8 921.6 1167C925 1172.2 928.6 1179.5 930 1182L952 1182L913.6 1226.5L863.2 1182L885.4 1182C884.4 1180.2 882 1175.2 879.3 1171C876.6 1166.8 873.3 1162 869.3 1156.9C865.3 1151.9 860.1 1146.1 855.1 1140.7C850.1 1135.3 844.7 1130 839 1124.6C833.3 1119.2 827.3 1113.7 820.9 1108.5C814.5 1103.3 807.4 1098.1 800.7 1093.4C794 1088.7 787.3 1084.2 780.6 1080.3C773.9 1076.4 767.1 1073 760.4 1070.2C753.7 1067.4 747 1065.1 740.3 1063.2C733.6 1061.3 726.3 1059.9 720.1 1059C713.9 1058.1 710.1 1057.4 703.2 1058C696.4 1058.6 686.8 1060.4 679 1062.4C671.2 1064.4 664.1 1067 656.6 1069.9C649.1 1072.8 641.4 1076.3 634.2 1080C627.1 1083.7 620.2 1088 613.7 1092.2C607.2 1096.4 600.9 1100.6 595 1105.3C589.1 1110 583.5 1114.9 578.2 1120.2C572.9 1125.5 567.7 1131.4 563.3 1137C558.9 1142.6 555.4 1148.2 552 1153.8C548.6 1159.4 545.6 1164.7 542.8 1170.6C540 1176.5 537.3 1182.8 535.3 1189C533.3 1195.2 531.9 1201.9 530.6 1208C529.4 1214.1 528.3 1222.7 527.8 1225.6Z" fill="url(#ag)"/><g><circle cx="471" cy="1382" r="81" fill="#c2acbf" filter="url(#b2)"/><path d="M545 1382L555.5 1382M544.3 1392.1L555.9 1393.7M542.3 1402L552.8 1404.9M538.9 1411.5L549.8 1416.2M534.2 1420.4L544.5 1426.7M528.4 1428.7L536 1434.9M521.5 1436.1L528 1443.1M513.7 1442.5L521.1 1453M505 1447.7L509.9 1457.1M495.8 1451.7L499.3 1461.6M486.1 1454.5L488.8 1467.7M476 1455.8L476.8 1467.2M466 1455.8L465.1 1468.6M455.9 1454.5L453.6 1465.6M446.2 1451.7L442.2 1463.1M437 1447.7L432.3 1456.7M428.3 1442.5L421.4 1452.3M420.5 1436.1L411.6 1445.6M413.6 1428.7L404.6 1436M407.8 1420.4L397.1 1426.9M403.1 1411.5L391.9 1416.3M399.7 1402L390.3 1404.6M397.7 1392.1L385.3 1393.8M397 1382L385.1 1382M397.7 1371.9L387.1 1370.5M399.7 1362L390.5 1359.4M403.1 1352.5L391.2 1347.4M407.8 1343.6L398 1337.6M413.6 1335.3L404 1327.5M420.5 1327.9L411.6 1318.4M428.3 1321.5L421.2 1311.4M437 1316.3L430.9 1304.6M446.2 1312.3L442.5 1301.8M455.9 1309.5L453.4 1297.1M466 1308.2L465.2 1296.9M476 1308.2L477 1295M486.1 1309.5L488.7 1296.8M495.8 1312.3L499.1 1303M505 1316.3L509.7 1307.4M513.7 1321.5L519.7 1313.1M521.5 1327.9L530.6 1318.2M528.4 1335.3L537.1 1328.2M534.2 1343.6L544.5 1337.3M538.9 1352.5L548.7 1348.3M542.3 1362L553.4 1358.9M544.3 1371.9L555.3 1370.4" stroke="#b79fb3" stroke-width="5" stroke-linecap="round" fill="none"/><g fill="#a98ba4"><circle cx="427.9" cy="1440.6" r="1.8"/><circle cx="532.4" cy="1339.9" r="2.1"/><circle cx="520.5" cy="1319.3" r="1.9"/><circle cx="511.3" cy="1448.3" r="2.2"/><circle cx="530.9" cy="1341.2" r="1.9"/><circle cx="489.6" cy="1456.8" r="1.8"/><circle cx="457.1" cy="1444.1" r="2.1"/><circle cx="534.9" cy="1377.9" r="2"/><circle cx="415.9" cy="1416.7" r="1.5"/><circle cx="480.2" cy="1304.8" r="1.2"/><circle cx="423.4" cy="1340.3" r="1.9"/><circle cx="433.1" cy="1450.1" r="2.2"/><circle cx="391.1" cy="1379.3" r="1.5"/><circle cx="535.6" cy="1415.9" r="1.2"/><circle cx="493.6" cy="1447.9" r="1.8"/><circle cx="506.2" cy="1434.6" r="2.1"/><circle cx="440.1" cy="1455" r="2.1"/><circle cx="420.2" cy="1431" r="1.7"/><circle cx="425.9" cy="1324.7" r="1.8"/><circle cx="413.5" cy="1327.9" r="1.7"/><circle cx="402.8" cy="1413.5" r="1.4"/><circle cx="445.9" cy="1457.5" r="1.7"/><circle cx="411.2" cy="1363.2" r="1.6"/><circle cx="415.9" cy="1351.7" r="1.8"/><circle cx="428.1" cy="1335.1" r="1.8"/><circle cx="398.3" cy="1397.7" r="1.6"/><circle cx="450.8" cy="1309.3" r="1.2"/><circle cx="540" cy="1409.6" r="2.2"/><circle cx="470.5" cy="1452.5" r="1.8"/><circle cx="441.7" cy="1444.3" r="1.5"/><circle cx="421.4" cy="1435.4" r="1.5"/><circle cx="416.5" cy="1435" r="1.2"/><circle cx="402.7" cy="1350.2" r="1.5"/><circle cx="484.1" cy="1457.4" r="1.4"/><circle cx="497.9" cy="1446.8" r="1.9"/><circle cx="525.7" cy="1422.7" r="1.5"/><circle cx="506.2" cy="1321.3" r="2.1"/><circle cx="504.2" cy="1441.8" r="1.9"/><circle cx="523.8" cy="1335.4" r="1.4"/><circle cx="523" cy="1431.4" r="1.4"/><circle cx="498" cy="1309.7" r="1.4"/><circle cx="457.3" cy="1457.4" r="1.8"/><circle cx="494.7" cy="1317.7" r="1.3"/><circle cx="451.1" cy="1455.8" r="1.5"/><circle cx="431.3" cy="1439.4" r="1.6"/><circle cx="404.8" cy="1424.3" r="1.4"/><circle cx="550" cy="1384.3" r="2.1"/><circle cx="540.9" cy="1376.2" r="2.2"/><circle cx="530.6" cy="1352.7" r="1.9"/><circle cx="509.4" cy="1318.6" r="1.7"/><circle cx="454.4" cy="1448.4" r="1.4"/><circle cx="537.2" cy="1412.2" r="1.5"/><circle cx="494.4" cy="1323.2" r="2.1"/><circle cx="443.8" cy="1308.2" r="2.1"/><circle cx="529.6" cy="1339.2" r="1.2"/><circle cx="469.1" cy="1316.5" r="1.5"/><circle cx="433.7" cy="1320.8" r="1.6"/><circle cx="538.9" cy="1354.6" r="1.5"/><circle cx="469.8" cy="1459.6" r="1.7"/><circle cx="484.8" cy="1314.8" r="1.4"/><circle cx="396" cy="1365.4" r="1.4"/><circle cx="491.4" cy="1306" r="2"/><circle cx="498.9" cy="1325.9" r="1.8"/><circle cx="512.2" cy="1333.8" r="1.5"/><circle cx="462.6" cy="1453.2" r="1.6"/><circle cx="396" cy="1394.9" r="1.2"/><circle cx="531.9" cy="1403.9" r="1.3"/><circle cx="543.3" cy="1415.2" r="2.1"/><circle cx="532.1" cy="1418.7" r="1.5"/><circle cx="443.9" cy="1445.1" r="1.8"/><circle cx="412.1" cy="1346.4" r="1.4"/><circle cx="440.3" cy="1438.9" r="1.8"/><circle cx="456.4" cy="1314.4" r="1.3"/><circle cx="501" cy="1444.2" r="1.8"/><circle cx="485.1" cy="1314.3" r="2"/><circle cx="420.8" cy="1333.1" r="1.6"/><circle cx="396.2" cy="1383.8" r="1.6"/><circle cx="446.7" cy="1315.7" r="1.4"/><circle cx="398.2" cy="1365.3" r="1.3"/><circle cx="408.7" cy="1413.8" r="2.1"/></g><g fill="#e6d8e2"><circle cx="534.6" cy="1355.2" r="2.1"/><circle cx="488.1" cy="1317.1" r="1.7"/><circle cx="525.9" cy="1435.6" r="1.9"/><circle cx="529" cy="1332.3" r="1.9"/><circle cx="463.6" cy="1310" r="1.3"/><circle cx="417.7" cy="1349.2" r="1.3"/><circle cx="480.6" cy="1319.5" r="1.3"/><circle cx="534.2" cy="1427.5" r="1.4"/><circle cx="547.4" cy="1393.4" r="1.3"/><circle cx="512.3" cy="1320.3" r="2"/><circle cx="540.4" cy="1360.6" r="2"/><circle cx="545" cy="1399.2" r="1.7"/><circle cx="457" cy="1319.2" r="1.9"/><circle cx="529.3" cy="1356.6" r="1.5"/><circle cx="400.1" cy="1351.9" r="1.4"/><circle cx="499.6" cy="1442.5" r="1.8"/><circle cx="472.5" cy="1312.6" r="1.6"/><circle cx="416.3" cy="1423.5" r="1.6"/><circle cx="532.7" cy="1417.6" r="2.2"/><circle cx="406.5" cy="1421.4" r="1.4"/><circle cx="443.5" cy="1311.4" r="1.9"/><circle cx="400.4" cy="1374.4" r="1.8"/><circle cx="523" cy="1342.9" r="1.3"/><circle cx="470.1" cy="1303.5" r="1.7"/><circle cx="400.7" cy="1408.3" r="1.4"/><circle cx="463.8" cy="1447.6" r="1.8"/><circle cx="444.6" cy="1443.1" r="1.9"/><circle cx="535.8" cy="1362.5" r="1.9"/><circle cx="404.8" cy="1422.2" r="1.8"/><circle cx="463.9" cy="1447.9" r="1.2"/><circle cx="402.4" cy="1390.9" r="1.4"/><circle cx="427.4" cy="1434.4" r="2"/><circle cx="520.5" cy="1444.7" r="1.7"/><circle cx="413.6" cy="1340.8" r="2"/><circle cx="502.4" cy="1316.9" r="1.7"/><circle cx="456.8" cy="1305.8" r="1.6"/><circle cx="462.8" cy="1303.1" r="1.7"/><circle cx="479.5" cy="1448.1" r="1.9"/><circle cx="435.2" cy="1311.3" r="2.1"/><circle cx="474.3" cy="1447.7" r="1.5"/><circle cx="499.8" cy="1451.1" r="2.1"/><circle cx="525.1" cy="1342.6" r="2.1"/><circle cx="443.9" cy="1446.4" r="1.9"/><circle cx="526" cy="1415" r="2"/><circle cx="453.2" cy="1448.4" r="1.8"/><circle cx="442.7" cy="1326.1" r="1.5"/><circle cx="405.6" cy="1409.7" r="1.4"/><circle cx="402.8" cy="1341.6" r="1.6"/><circle cx="408.9" cy="1364.2" r="1.5"/><circle cx="438.3" cy="1326.4" r="2.1"/><circle cx="524.9" cy="1347.2" r="2.1"/><circle cx="417.5" cy="1436" r="2"/><circle cx="450" cy="1453.3" r="1.9"/><circle cx="494.2" cy="1319" r="2"/><circle cx="543.1" cy="1364.1" r="1.7"/><circle cx="524.9" cy="1428.5" r="1.6"/><circle cx="456.2" cy="1309.1" r="1.8"/><circle cx="501.6" cy="1449.2" r="1.8"/><circle cx="504.6" cy="1452.5" r="1.9"/><circle cx="527.4" cy="1437.1" r="1.3"/><circle cx="434.2" cy="1447.5" r="1.8"/><circle cx="401.5" cy="1357" r="1.7"/><circle cx="445.9" cy="1442.6" r="1.3"/><circle cx="454.9" cy="1308" r="1.7"/><circle cx="466.5" cy="1313.4" r="1.5"/><circle cx="413.2" cy="1434" r="1.2"/><circle cx="404.2" cy="1380" r="2"/><circle cx="429.4" cy="1436.2" r="1.6"/><circle cx="397.6" cy="1362.4" r="1.6"/><circle cx="507.9" cy="1329.1" r="1.5"/></g><clipPath id="c1"><circle cx="471" cy="1382" r="59.5"/></clipPath><circle cx="471" cy="1382" r="59.5" fill="#5d1541"/><g clip-path="url(#c1)"><path d="M413 1355.9L417.4 1361.9M413.2 1363.6L417.8 1368.9M413 1370.8L416.8 1376.5M412.8 1379.6L418.5 1383.4M414.1 1392.4L417 1386.4M413.7 1400.7L416.7 1394.9M413 1407.5L418.2 1403.6M421.5 1340.6L426.7 1344.8M421.8 1348.7L426 1353.6M420.1 1355.9L425.6 1359.4M421.2 1363.4L424.6 1369.5M421.9 1370.3L426.8 1377.8M421.1 1378.8L427.5 1383.7M421.7 1392.8L426.9 1385.7M420.4 1400.9L425.6 1394.4M420.8 1407.6L427.7 1402.7M420.9 1415.4L427.4 1411.9M428.3 1339.6L433.9 1346.5M430 1346.6L434.1 1354M427.9 1356.3L434.6 1359.8M430 1363.1L434.5 1368.1M428.1 1372.5L433.5 1376.2M428.5 1384.4L433.4 1380.1M428.9 1394L433.3 1387.3M428.1 1401.1L434.6 1395.4M429.8 1408L433.3 1402.4M430 1417.1L434 1408.9M429.2 1425.5L432.8 1418.7M437.5 1331.9L441.4 1337.2M435.6 1340.6L442.7 1344.3M437.2 1347.1L442.3 1353.4M437.4 1354.7L440.5 1361.4M436.4 1363.6L442.1 1367.4M437.8 1370.5L442.4 1378.4M436.8 1385.3L442.3 1380.1M436.7 1392.3L443.6 1388.8M435.8 1399.6L443.9 1395.8M437.3 1409.2L440.9 1403.6M436.8 1416.1L442.7 1410.4M436.4 1425L440.9 1418.8M436.2 1431.9L442.1 1427.7M444 1323.8L450.2 1328.5M443.9 1331.9L450.7 1337.5M444.8 1338.7L449.1 1346.2M445.2 1347.3L448.7 1352.7M444.3 1355.9L449.1 1360.8M444.4 1362.5L448.7 1368.9M446.7 1371.6L449.5 1377.5M444.1 1378.7L449.5 1383.7M444.8 1393.2L448.3 1386.8M444.5 1400.9L449.3 1395.6M443.4 1408.2L449.8 1402.9M446 1416.9L449.9 1411.3M444.6 1425L450.8 1418.9M445.7 1431.8L449.1 1426.3M444.1 1439.8L450.9 1436.1M452.9 1324.7L458.1 1330.2M452.9 1331.3L457 1337.7M452.8 1339.6L459.1 1344.3M452.7 1347.1L457.4 1354.8M452.7 1354.6L458 1360.5M452.5 1362.3L457.8 1369.4M451.6 1371.9L457.6 1376.9M453.1 1384.9L458.5 1380.5M453.1 1392.7L458.7 1386.1M450.9 1399.5L458.9 1395.4M452.9 1408.3L456.9 1402.8M453.1 1417.5L456.5 1411.3M451.7 1423.8L457.8 1417.9M453 1431.3L458.5 1427.9M453.2 1441.2L456.5 1434.9M460.1 1324.3L465.1 1330.7M460.6 1331.1L464.5 1336.7M461 1340.2L464.2 1345.8M461.3 1348.3L466.4 1352.6M460.2 1357.1L465.7 1361.1M459.1 1362.8L466 1368.4M460.3 1369.5L464.5 1377.7M460.4 1378.7L467.4 1384.5M461.1 1392.8L465 1387.7M459.5 1400.4L466.2 1396M460.4 1408.7L465.7 1402.9M460.2 1416.1L467 1410.2M459.7 1422.9L467.6 1419M460.8 1431.8L464.4 1426.3M461 1438.8L466.8 1435.5M469 1330.1L473.1 1323.1M467.9 1332.3L473.5 1336.9M468.8 1338.6L472.7 1346.7M468.9 1354.6L474.3 1347.3M467.6 1354.7L473.6 1360.7M467.1 1363.7L474.4 1369.1M467.9 1370.9L474 1377.3M468.8 1379.3L474.8 1384.8M466.6 1392L474 1387.6M467.3 1401.9L473.3 1394.9M467.5 1408.3L474 1402.2M467.9 1416.4L473.9 1412M468.2 1424.3L473.1 1418.7M469 1427.5L473.5 1432.5M468 1439.3L473.1 1434.9M476.1 1329.1L482.8 1325.4M476 1335.8L482.4 1332.1M476.8 1345.9L480.9 1340.3M477.9 1353.4L481 1347.7M475.7 1359.3L481.6 1355.7M475.8 1368.7L481.3 1363.4M476.9 1376.8L481.4 1371.9M476.3 1380.5L483 1384.1M476.5 1389.2L482.2 1392.2M476.7 1393.9L481 1401.5M475.7 1402.3L481.6 1408.9M474.8 1411.5L482 1415.4M475.4 1419.3L480.9 1425.1M475.1 1425.9L481.4 1432M477.2 1433.2L480.7 1440.7M483.6 1329.5L490.9 1325.2M483.9 1336.6L488.8 1331.2M483.9 1346.7L488.7 1339.5M484.2 1351.6L490.8 1348M484.6 1361.3L488.1 1354.3M483.8 1368.5L489.4 1365M484.8 1376.9L488.5 1370.9M483.8 1380.2L489 1384.4M484 1387.2L488.7 1392.4M484.6 1394.2L489.6 1400.5M483.3 1403.5L489.3 1408.7M484.5 1411.6L489.4 1416M484.4 1419.3L490.1 1424.9M484.3 1427.3L488.6 1432.8M483.7 1435.2L490.9 1441M492.1 1329.7L498.5 1323.6M491.4 1337.5L497.9 1331.7M491 1344.1L497.5 1339.6M490.9 1353L497.8 1349.1M492.5 1360.9L498.4 1356.8M490.9 1368.6L496.9 1364.3M492.3 1377.6L497.1 1370.8M492.9 1385.3L496.7 1378.4M491.2 1388.3L497.6 1392.2M492 1395.2L496.5 1400.1M490.7 1403.5L497.3 1407.8M491.1 1409.7L497.3 1416.2M492.8 1419.4L497.8 1423.7M492.8 1426.1L495.9 1432.1M492.8 1434.9L498.1 1439.7M499.1 1336.9L504.8 1332.9M499.9 1346.6L505.2 1339.9M499.8 1353.8L504.4 1347.5M499.2 1361.1L505.6 1356.6M499.9 1368L505.9 1364.2M500.5 1376.7L504.8 1371.8M498.5 1379.9L505.6 1384.6M500.4 1387L504.8 1394.2M499.5 1394L505.3 1400.2M499.4 1402.8L507.2 1407.6M501 1410.8L505 1416.4M500.4 1419.2L504.9 1424.4M500.3 1426.6L503.7 1432.6M507.5 1343.7L513.5 1340.8M507.8 1352.3L514.2 1348.2M508.6 1361.2L512.9 1354.8M508.9 1369.1L513.1 1362.8M506.9 1376.5L512.8 1371.1M509.2 1384.6L512.1 1378.8M507.8 1386.8L512.6 1392.1M508.3 1394.7L513.6 1401.3M507.9 1403.6L513.1 1407.6M507 1411.4L514.9 1415.8M508.1 1419.4L513.1 1424M515.3 1345.9L520 1339.7M516 1353.6L520.1 1346.6M515.7 1363.1L519.8 1355M514.7 1367.8L521.1 1363.3M516.3 1376.2L521.4 1372M517.2 1379.1L520.1 1384.9M515.9 1386.8L519.5 1393.5M515.8 1395.4L521.7 1400.4M515.2 1402.4L521.9 1407.5M515 1411.4L521 1415.7M523.8 1360.2L529.6 1356M523.7 1369.2L528 1362.4M524.4 1378.2L528.6 1370.7M523.6 1384.5L529 1379.1M523.2 1386.5L528.5 1393M524.8 1393.5L529.1 1401.1M522.9 1404.3L530.3 1408.6" stroke="#ecd6e3" stroke-width="2.7" stroke-linecap="round" fill="none"/><path d="M451 1362L491 1402M491 1362L451 1402" stroke="#5d1541" stroke-width="6" stroke-linecap="round" opacity=".75"/></g></g><g><circle cx="953" cy="1380" r="80" fill="#c2acbf" filter="url(#b2)"/><path d="M1026 1380L1038 1380M1025.3 1389.9L1037.7 1391.6M1023.3 1399.7L1035.5 1403.1M1020 1409.1L1032.1 1414.4M1015.4 1417.9L1026 1424.4M1009.6 1426.1L1019.9 1434.4M1002.8 1433.4L1009.4 1440.4M995.1 1439.6L1001.7 1448.9M986.6 1444.8L992.7 1456.6M977.4 1448.8L981.5 1460.2M967.9 1451.5L970.5 1464.3M958 1452.8L958.7 1462.8M948 1452.8L947.2 1464.2M938.1 1451.5L936 1461.7M928.6 1448.8L924.6 1459.8M919.4 1444.8L914 1455.3M910.9 1439.6L905.4 1447.4M903.2 1433.4L896.1 1440.9M896.4 1426.1L888.1 1432.8M890.6 1417.9L879.4 1424.8M886 1409.1L874.5 1414.1M882.7 1399.7L872.9 1402.4M880.7 1389.9L868.1 1391.7M880 1380L869.9 1380M880.7 1370.1L868.8 1368.4M882.7 1360.3L873.1 1357.6M886 1350.9L877.3 1347.1M890.6 1342.1L879.5 1335.3M896.4 1333.9L888.4 1327.4M903.2 1326.6L896.1 1319.1M910.9 1320.4L903.2 1309.4M919.4 1315.2L913.4 1303.7M928.6 1311.2L925 1301.2M938.1 1308.5L935.4 1295.5M948 1307.2L947.2 1295.5M958 1307.2L958.8 1295M967.9 1308.5L970 1298.4M977.4 1311.2L981.9 1298.7M986.6 1315.2L992.2 1304.3M995.1 1320.4L1002.8 1309.4M1002.8 1326.6L1011.8 1317.1M1009.6 1333.9L1017.9 1327.2M1015.4 1342.1L1024.7 1336.4M1020 1350.9L1029.3 1346.9M1023.3 1360.3L1033 1357.6M1025.3 1370.1L1035 1368.7" stroke="#b79fb3" stroke-width="5" stroke-linecap="round" fill="none"/><g fill="#a98ba4"><circle cx="930" cy="1448.9" r="1.2"/><circle cx="923.1" cy="1318.5" r="1.5"/><circle cx="982.5" cy="1315.8" r="1.5"/><circle cx="879.2" cy="1388.7" r="1.3"/><circle cx="1015.6" cy="1370.1" r="1.9"/><circle cx="988.5" cy="1327.6" r="2"/><circle cx="904.8" cy="1433.8" r="1.2"/><circle cx="1016.1" cy="1399.1" r="2.2"/><circle cx="977.8" cy="1450.9" r="2.1"/><circle cx="1017" cy="1355.6" r="1.6"/><circle cx="878.5" cy="1368.3" r="1.3"/><circle cx="952.2" cy="1304.2" r="2.1"/><circle cx="1029.1" cy="1397.8" r="1.3"/><circle cx="913.7" cy="1441.3" r="2.1"/><circle cx="911.3" cy="1445.7" r="1.7"/><circle cx="927" cy="1442.9" r="1.4"/><circle cx="1010.6" cy="1410.8" r="1.9"/><circle cx="1018.6" cy="1378.7" r="1.2"/><circle cx="1024.3" cy="1374" r="1.6"/><circle cx="958.8" cy="1452.3" r="2"/><circle cx="885.9" cy="1399.2" r="1.3"/><circle cx="1007.9" cy="1348" r="1.7"/><circle cx="987.3" cy="1324.7" r="1.9"/><circle cx="1022.5" cy="1357.3" r="2"/><circle cx="1007.8" cy="1423.4" r="1.3"/><circle cx="991" cy="1323.9" r="1.7"/><circle cx="1029.6" cy="1379.7" r="2.2"/><circle cx="885.2" cy="1400.4" r="1.9"/><circle cx="885.9" cy="1388.9" r="1.6"/><circle cx="994.8" cy="1434.9" r="2.2"/><circle cx="1023.7" cy="1361.8" r="1.7"/><circle cx="919" cy="1434.7" r="1.5"/><circle cx="968.4" cy="1304.7" r="1.6"/><circle cx="969.9" cy="1306.5" r="1.9"/><circle cx="914.3" cy="1315.5" r="1.6"/><circle cx="934" cy="1315.2" r="1.7"/><circle cx="962.2" cy="1306.5" r="1.5"/><circle cx="1022.1" cy="1355.4" r="1.8"/><circle cx="1024.6" cy="1385.2" r="1.5"/><circle cx="919.7" cy="1318" r="2"/><circle cx="907.5" cy="1319.4" r="1.5"/><circle cx="906.8" cy="1321.2" r="2"/><circle cx="908" cy="1441.9" r="2.1"/><circle cx="923.3" cy="1307.2" r="2.2"/><circle cx="882" cy="1371.9" r="1.4"/><circle cx="993.4" cy="1313.3" r="1.7"/><circle cx="926.2" cy="1310.5" r="1.9"/><circle cx="988.6" cy="1446.6" r="1.8"/><circle cx="917.7" cy="1319.9" r="1.8"/><circle cx="964.3" cy="1307.7" r="1.9"/><circle cx="1017.6" cy="1391.3" r="1.6"/><circle cx="913.9" cy="1326.2" r="1.9"/><circle cx="909.7" cy="1333.4" r="1.7"/><circle cx="962.5" cy="1443.2" r="1.3"/><circle cx="925.9" cy="1440.1" r="1.4"/><circle cx="1021.7" cy="1395.7" r="1.6"/><circle cx="897.7" cy="1333.2" r="1.4"/><circle cx="1004.7" cy="1344" r="1.6"/><circle cx="940.6" cy="1448.4" r="1.3"/><circle cx="986.8" cy="1319.8" r="1.2"/><circle cx="904.2" cy="1337.8" r="1.7"/><circle cx="914.5" cy="1441.2" r="2.2"/><circle cx="982.1" cy="1316.7" r="2"/><circle cx="909.8" cy="1326.3" r="1.3"/><circle cx="893.7" cy="1339.2" r="2.2"/><circle cx="1024.3" cy="1365.5" r="1.6"/><circle cx="1002.4" cy="1340.9" r="1.3"/><circle cx="886.3" cy="1350.7" r="1.3"/><circle cx="899.9" cy="1323.9" r="1.6"/><circle cx="892.4" cy="1407.7" r="1.5"/><circle cx="1021" cy="1368.1" r="2.2"/><circle cx="1015.1" cy="1342.6" r="1.5"/><circle cx="1023.4" cy="1371.5" r="1.6"/><circle cx="919.9" cy="1451.4" r="1.7"/><circle cx="937" cy="1448.8" r="1.3"/><circle cx="902.4" cy="1331.5" r="1.5"/><circle cx="968.1" cy="1305.3" r="1.2"/><circle cx="887" cy="1366.3" r="2.1"/><circle cx="966.3" cy="1314.4" r="1.5"/><circle cx="997.4" cy="1445.1" r="1.5"/></g><g fill="#e6d8e2"><circle cx="898.1" cy="1335.7" r="1.8"/><circle cx="893.5" cy="1334.5" r="1.3"/><circle cx="957.4" cy="1312.3" r="1.7"/><circle cx="918.1" cy="1438.1" r="1.7"/><circle cx="885.9" cy="1395.3" r="1.9"/><circle cx="899.5" cy="1345.7" r="1.5"/><circle cx="878.3" cy="1401.4" r="2.1"/><circle cx="892.3" cy="1362.1" r="2"/><circle cx="888.1" cy="1411.7" r="1.9"/><circle cx="905.3" cy="1327.8" r="2.1"/><circle cx="900.9" cy="1425.7" r="2.1"/><circle cx="975.4" cy="1443.9" r="2"/><circle cx="1022.9" cy="1410.8" r="1.9"/><circle cx="891.3" cy="1407.7" r="2"/><circle cx="1008.3" cy="1345.3" r="1.7"/><circle cx="885.4" cy="1358.5" r="1.5"/><circle cx="994.2" cy="1439.5" r="2"/><circle cx="1013.6" cy="1407.8" r="2"/><circle cx="972.1" cy="1308.9" r="1.2"/><circle cx="939.5" cy="1302.5" r="2.2"/><circle cx="933.8" cy="1319.2" r="2"/><circle cx="967.1" cy="1452" r="2.2"/><circle cx="937.8" cy="1316.7" r="1.5"/><circle cx="1009.9" cy="1347.8" r="1.8"/><circle cx="896.8" cy="1413.8" r="1.8"/><circle cx="1015.3" cy="1397.5" r="1.6"/><circle cx="1010.5" cy="1407.9" r="1.8"/><circle cx="949.3" cy="1303" r="1.3"/><circle cx="891.1" cy="1408.3" r="1.8"/><circle cx="875.2" cy="1385.1" r="1.6"/><circle cx="1022.7" cy="1405.4" r="1.4"/><circle cx="904.8" cy="1327.8" r="2.1"/><circle cx="884.4" cy="1355.3" r="1.5"/><circle cx="889.4" cy="1358.6" r="2"/><circle cx="888.2" cy="1373.1" r="1.4"/><circle cx="901.4" cy="1434.1" r="1.4"/><circle cx="936.2" cy="1308.5" r="1.3"/><circle cx="921.2" cy="1323.9" r="1.3"/><circle cx="897.5" cy="1342.8" r="2.1"/><circle cx="885.3" cy="1388.3" r="2"/><circle cx="1026.3" cy="1393.7" r="1.3"/><circle cx="998.7" cy="1443.5" r="1.9"/><circle cx="963.9" cy="1443.9" r="2.2"/><circle cx="914.3" cy="1314.5" r="1.3"/><circle cx="904.4" cy="1331.5" r="1.4"/><circle cx="916.6" cy="1443.1" r="1.5"/><circle cx="903.9" cy="1422.9" r="2"/><circle cx="907.6" cy="1319.2" r="1.6"/><circle cx="995.5" cy="1322.8" r="1.8"/><circle cx="885.9" cy="1346.8" r="1.6"/><circle cx="1005.1" cy="1416.4" r="1.4"/><circle cx="1027.9" cy="1398.9" r="1.7"/><circle cx="957.1" cy="1317.1" r="1.7"/><circle cx="1009.1" cy="1333.4" r="1.6"/><circle cx="889.9" cy="1393.9" r="1.4"/><circle cx="990.3" cy="1438" r="1.6"/><circle cx="1000.8" cy="1335.3" r="1.5"/><circle cx="941.8" cy="1444.6" r="1.5"/><circle cx="959.6" cy="1450.4" r="1.2"/><circle cx="1014.3" cy="1348.5" r="2.1"/><circle cx="924.9" cy="1311.8" r="1.7"/><circle cx="1014.1" cy="1358.2" r="1.9"/><circle cx="934.2" cy="1451.3" r="1.9"/><circle cx="987.3" cy="1436.6" r="1.2"/><circle cx="960.9" cy="1443.8" r="1.6"/><circle cx="1020.9" cy="1368.6" r="1.5"/><circle cx="886.8" cy="1393.5" r="1.9"/><circle cx="939.9" cy="1315.7" r="1.4"/><circle cx="916.3" cy="1311.1" r="1.8"/><circle cx="881.7" cy="1413.2" r="1.2"/></g><clipPath id="c2"><circle cx="953" cy="1380" r="60"/></clipPath><circle cx="953" cy="1380" r="60" fill="#5d1541"/><g clip-path="url(#c2)"><path d="M894.7 1354.6L900 1358.5M895.2 1362.9L901.1 1365.7M894.8 1368L899.4 1375.8M895.1 1377.1L900.6 1382.1M894.2 1390L900.7 1384.2M895.6 1397.5L900.5 1392.8M894.2 1405.6L901.9 1401.6M902.7 1345.2L907.7 1350.6M903.2 1353.7L908.8 1358.1M904.3 1361.3L908.5 1368.2M903.4 1368.2L907.5 1374.8M901.2 1377.4L908.5 1381.5M903.2 1389.4L909.3 1385.4M902.6 1399.2L909.2 1393.6M902.5 1405.7L908.3 1400.1M903.1 1414L907.1 1408.9M902.4 1422.3L908.2 1416.3M911.5 1338L915.8 1343.8M912.2 1345.4L916.1 1350.7M911.9 1352.6L915.9 1360.6M911.4 1361.4L916.2 1368M911.3 1369L914.8 1375.2M912.2 1382.5L916.3 1377.6M909.9 1390.2L916.8 1384.6M912 1398.5L916.3 1393.4M910.8 1406L916.8 1401.6M912 1414L916.3 1408.3M911.6 1423.6L915.8 1416.7M912.1 1430.5L915.8 1423.4M917.9 1329L923.4 1335M918.2 1336.9L923.6 1343.1M918.3 1347L925.1 1350.6M918.5 1354.3L925.4 1359.7M918.2 1362.5L925.1 1367.2M918.9 1370.4L925 1373.7M917.4 1377.3L924.3 1381.4M917.2 1390.8L924.3 1385.8M917.9 1398.3L925.9 1394M920 1407.4L923.2 1401.5M918.2 1414.1L923.2 1408.2M919.9 1423.2L923.5 1416.6M919.5 1430.7L923.5 1423.7M926.7 1320.8L931.9 1328.1M926.2 1329.3L932.1 1335.2M926.8 1338.4L932.7 1342.8M926.5 1346.7L933.2 1350.1M925.7 1354.9L932 1358.2M926.9 1360.6L930.4 1367.7M925.9 1371L932.4 1374.6M927.7 1376.1L931.9 1382.3M926 1390.2L931.1 1384.8M926.8 1398.9L931.9 1391.3M927.5 1406.8L930.9 1400.5M927.7 1414.2L932.4 1409.6M926.4 1422.9L931.8 1417M927.4 1429.7L932.5 1425.6M925.6 1439L931.5 1432.4M935.6 1322.3L938.6 1328.6M934.5 1329.7L939.7 1334.7M934.2 1337.9L940.7 1341.9M934.4 1344.3L938.7 1352.1M934.3 1351.7L939.1 1359.4M933.7 1361.1L941.1 1366.2M934.7 1369.3L941.1 1373.4M934.1 1383.7L939.6 1377.1M932.9 1389.8L940.4 1386.1M933.7 1397.5L939.4 1392.8M933.6 1406.7L940.4 1400.6M934.5 1414.9L939.1 1408.5M934.6 1421.9L940.5 1415.9M933.8 1430.7L939 1424.9M935.6 1439.2L939.2 1432.3M942.2 1321.1L947.6 1328.4M943.1 1331.3L948.6 1335.4M942.7 1336.9L948.9 1342.7M943.4 1345L946.8 1351.4M942 1355L948.4 1358.7M941.9 1362.2L948.3 1366.4M941.7 1369.3L947.1 1373.6M942.4 1377.1L949.3 1382.1M942 1389.7L949 1385.4M942.9 1398.9L947 1393.1M942.7 1405.3L948.7 1401.9M941.3 1413.2L947.8 1408.6M941 1420.8L947.6 1416.7M943.2 1428.9L948.2 1424.4M942.8 1437.8L948.1 1433.2M951.7 1328.7L955.5 1321.4M950.6 1334L956.5 1330M950.4 1336.5L954.9 1342.9M951.8 1351.3L955.5 1345.3M949.8 1355.2L955.4 1358.8M949.7 1360.8L955.8 1366.3M951.3 1374.9L955.2 1368.2M950 1382.9L956.6 1376.9M949.7 1390.3L955.2 1384.7M951.3 1392.9L956 1398.9M950.8 1402.2L956.1 1406.2M949.5 1413.1L955.7 1409.6M951.7 1416.7L954.7 1422.7M949.9 1425.2L957 1429.1M949.5 1433.4L957.6 1437.5M958.4 1326.2L964.1 1322.9M956.8 1334.1L964.4 1330.1M959.7 1343.8L963.4 1337.2M957.8 1350.1L963.1 1345.2M956.3 1358.4L964.3 1354.2M958.1 1365.5L963.6 1361.7M957.4 1373.1L964.5 1369.7M957.5 1382.7L964.1 1376.5M957.6 1384.2L963.9 1390.6M959 1392.8L962.4 1399.2M958.6 1402.1L964.2 1405.4M958.3 1408.5L964.9 1414.6M957.6 1417L964.4 1422M958.2 1424L962.8 1430.7M957.8 1431.5L962.9 1438.2M966.3 1328.5L970.2 1321.5M966.5 1336.1L970.3 1328.6M965.7 1344.1L970.7 1337.8M965.1 1350.6L972.9 1346.1M965.5 1357.7L971.4 1354.3M965.6 1365.5L971.7 1362.6M966.5 1374.4L971.6 1370.6M966 1381.8L973.1 1377.6M966.4 1385.5L970.9 1391.3M966.8 1392.5L971.6 1399.1M967 1400.9L971.5 1405.4M967.6 1409.3L971 1414.8M965.8 1417.7L971.9 1421.2M966 1425.5L973.2 1430.4M966.8 1432.4L971.3 1437.8M973.9 1327.3L980.3 1321.7M975 1336.1L978.3 1329.7M975.8 1342.8L978.7 1337.1M974.5 1350.5L979.7 1345M974.9 1358.5L979.5 1354M973.8 1367.4L980.5 1361.8M973.4 1374.5L980.4 1370.4M974.4 1377.5L977.4 1383.8M972.8 1385.8L979.3 1389.4M972.6 1393.7L979.5 1397M973.8 1401.8L979 1406.3M975.3 1409.4L979.6 1415M974.1 1417.3L979 1421.6M974 1424.3L979.3 1431.3M974.7 1431.8L979.2 1439.6M982.8 1336.4L987 1329.7M983.2 1343.8L987.1 1336.7M982.5 1350.4L986.3 1345.3M982.5 1359L985.6 1353.4M981.6 1366.8L987.8 1363M983.6 1374.2L986.9 1368.7M981.7 1377L986.1 1383.3M983.2 1384.3L987 1391.4M981.8 1392.7L987.5 1397.8M981.6 1400.7L988.6 1405.9M980.5 1409.4L987.3 1414M982.5 1415.8L987 1421.9M982.3 1425L986.3 1431M990.2 1336.2L994.1 1328.9M990.4 1343.3L993.8 1337M991.4 1351.3L995 1344.8M991 1358.4L995.4 1352.9M990.7 1368L994.9 1360.3M989.2 1375.6L995.2 1369.2M989.7 1382.4L993.9 1376.7M990 1385.5L996.1 1390.4M990 1393.1L996.1 1398.7M990.2 1401.3L995.2 1405.8M989.4 1410L995.4 1414.5M989.4 1417.6L995.9 1421.7M989.2 1424.6L996.6 1428.8M998.5 1344.3L1002.6 1337.8M997.9 1352.5L1002.3 1344.7M996.2 1358.8L1004.2 1354.7M997.2 1366.2L1003.3 1363.3M998.3 1375.1L1003.3 1369.9M996.5 1381.6L1003.2 1378.1M997 1385.3L1003 1390.8M996.4 1393.5L1004.2 1397.4M997.8 1400.5L1003.5 1406.1M998.4 1409.2L1002.4 1415.3M996.3 1417.3L1004 1422M1006 1358.8L1011.9 1354.9M1006.2 1366.9L1009.4 1360.8M1007.1 1375.4L1010.2 1368.8M1006.4 1377.1L1011.3 1384M1005.9 1385.4L1012 1390.6M1004.8 1392.8L1011.1 1397.3M1004.6 1400.9L1010.7 1405.2" stroke="#ecd6e3" stroke-width="2.7" stroke-linecap="round" fill="none"/><path d="M933 1360L973 1400M973 1360L933 1400" stroke="#5d1541" stroke-width="6" stroke-linecap="round" opacity=".75"/></g></g><text x="246" y="1512" font-size="56" font-weight="bold" fill="#430c2a" font-family="&quot;Liberation Sans&quot;, &quot;Noto Sans CJK JP&quot;, sans-serif" textLength="372" lengthAdjust="spacingAndGlyphs">ナイーブT細胞</text><text x="773" y="1498" font-size="48" font-weight="bold" fill="#430c2a" font-family="&quot;Liberation Sans&quot;, &quot;Noto Sans CJK JP&quot;, sans-serif" textLength="524" lengthAdjust="spacing">Tレグ（制御性T）細胞</text><text x="856" y="1724" font-size="44" font-weight="bold" fill="#430c2a" font-family="&quot;Liberation Sans&quot;, &quot;Noto Sans CJK JP&quot;, sans-serif" textLength="438" lengthAdjust="spacing">全身に移動して炎症を</text><text x="859" y="1776" font-size="43" font-weight="bold" fill="#430c2a" font-family="&quot;Liberation Sans&quot;, &quot;Noto Sans CJK JP&quot;, sans-serif" textLength="260" lengthAdjust="spacing">コントロール</text><path d="M951.3 1518.5L902.8 1639.6" stroke="#3a0a22" stroke-width="2.6" fill="none"/><path d="M894.6 1660L893.5 1635.9L912.1 1643.3Z" fill="#3a0a22"/><path d="M1017 1523.4L1026 1649.1" stroke="#3a0a22" stroke-width="2.6" fill="none"/><path d="M1027.6 1671L1016 1649.8L1036 1648.3Z" fill="#3a0a22"/><path d="M1073 1529.5L1157.7 1632" stroke="#3a0a22" stroke-width="2.6" fill="none"/><path d="M1171.7 1649L1150 1638.4L1165.4 1625.7Z" fill="#3a0a22"/></svg></body></html>
